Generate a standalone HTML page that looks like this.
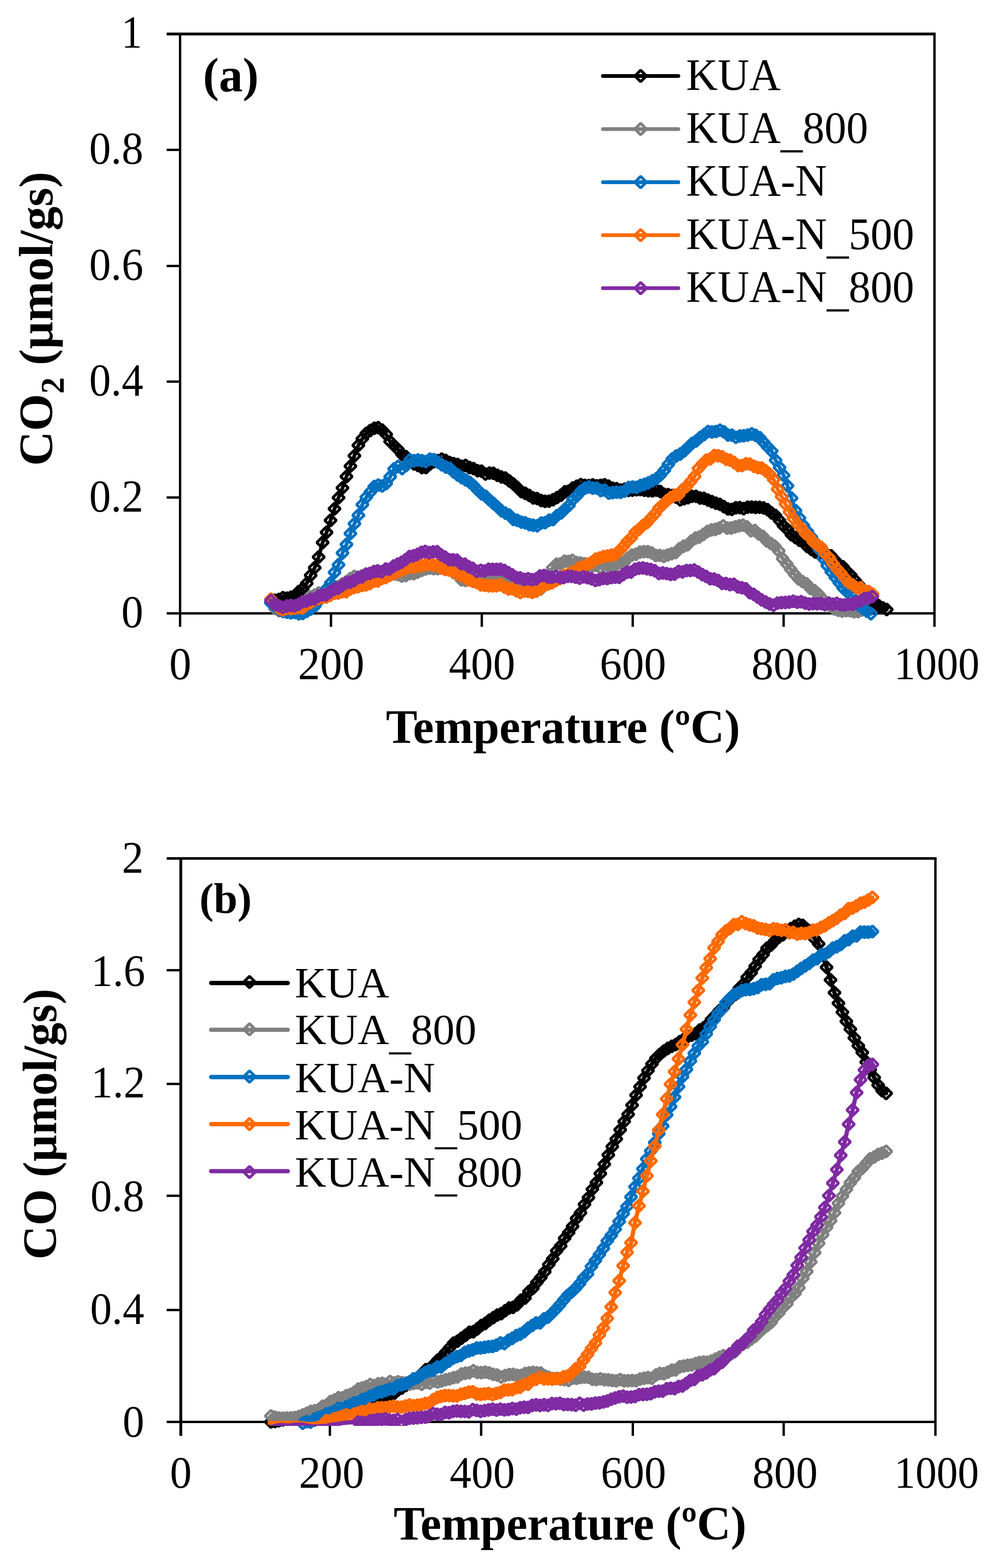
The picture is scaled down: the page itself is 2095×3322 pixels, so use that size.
<!DOCTYPE html>
<html lang="en"><head><meta charset="utf-8"><title>TPD profiles: CO2 and CO evolution</title>
<style>
html,body{margin:0;padding:0;background:#fff}
svg{display:block}
text{font-family:"Liberation Serif","Times New Roman",serif;fill:#000}
</style></head>
<body>
<svg width="2095" height="3322" viewBox="0 0 2095 3322">
<rect width="2095" height="3322" fill="#fff"/>
<defs><clipPath id="clipb"><rect x="567.1" y="1700" width="1500" height="1320.9"/></clipPath></defs>
<g id="chart-a">
<g fill="#000">
<rect x="353" y="69" width="1629" height="6"/>
<rect x="1977" y="69" width="5" height="1259"/>
<rect x="379" y="69" width="5" height="1259"/>
<rect x="353" y="1297" width="1629" height="5"/>
<rect x="353" y="1051.5" width="31" height="5"/>
<rect x="353" y="806" width="31" height="5"/>
<rect x="353" y="561" width="31" height="5"/>
<rect x="353" y="315" width="31" height="5"/>
<rect x="698.6" y="1297" width="5" height="31"/>
<rect x="1018.1" y="1297" width="5" height="31"/>
<rect x="1337.8" y="1297" width="5" height="31"/>
<rect x="1657.5" y="1297" width="5" height="31"/>
</g>
<g fill="none" stroke="#000000"><path d="M574.0,1276.6L582.4,1271.9L590.8,1270.1L599.2,1266.2L607.7,1267.4L616.1,1265.4L624.5,1262.1L632.9,1253.4L641.3,1247.1L649.7,1236.0L658.1,1218.9L666.6,1202.9L675.0,1180.1L683.4,1149.4L691.8,1127.9L700.2,1102.4L708.6,1077.9L717.1,1054.4L725.5,1033.7L733.9,1009.6L742.3,987.5L750.7,965.6L759.1,943.5L767.5,929.5L776.0,918.3L784.4,912.0L792.8,907.2L801.2,906.0L809.6,911.4L818.0,920.2L826.4,935.5L834.9,944.0L843.3,952.4L851.7,962.9L860.1,967.5L868.5,975.9L876.9,982.9L885.3,986.2L893.8,990.7L902.2,990.7L910.6,983.3L919.0,978.3L927.4,976.1L935.8,972.8L944.3,975.6L952.7,980.0L961.1,982.2L969.5,984.1L977.9,987.7L986.3,986.1L994.7,990.6L1003.2,992.7L1011.6,997.2L1020.0,998.2L1028.4,1004.3L1036.8,1002.2L1045.2,1002.8L1053.6,1007.0L1062.1,1010.5L1070.5,1012.8L1078.9,1018.9L1087.3,1025.2L1095.7,1032.9L1104.1,1041.5L1112.5,1045.1L1121.0,1049.5L1129.4,1054.9L1137.8,1056.2L1146.2,1060.4L1154.6,1062.1L1163.0,1061.7L1171.5,1058.7L1179.9,1054.3L1188.3,1049.3L1196.7,1041.7L1205.1,1040.2L1213.5,1033.7L1221.9,1030.0L1230.4,1026.7L1238.8,1028.2L1247.2,1028.7L1255.6,1027.3L1264.0,1029.2L1272.4,1028.3L1280.8,1027.1L1289.3,1030.1L1297.7,1034.4L1306.1,1035.3L1314.5,1038.1L1322.9,1036.6L1331.3,1038.9L1339.8,1038.5L1348.2,1037.5L1356.6,1037.3L1365.0,1038.7L1373.4,1039.6L1381.8,1039.9L1390.2,1038.4L1398.7,1041.4L1407.1,1047.2L1415.5,1048.0L1423.9,1049.9L1432.3,1053.4L1440.7,1058.9L1449.1,1056.8L1457.6,1054.5L1466.0,1051.5L1474.4,1051.5L1482.8,1055.1L1491.2,1055.7L1499.6,1059.5L1508.0,1062.9L1516.5,1066.1L1524.9,1068.5L1533.3,1073.4L1541.7,1078.2L1550.1,1079.3L1558.5,1075.9L1567.0,1075.4L1575.4,1077.6L1583.8,1074.5L1592.2,1074.3L1600.6,1074.9L1609.0,1074.7L1617.4,1076.0L1625.9,1079.8L1634.3,1086.6L1642.7,1092.0L1651.1,1102.6L1659.5,1113.8L1667.9,1121.7L1676.3,1133.0L1684.8,1138.8L1693.2,1144.7L1701.6,1146.5L1710.0,1157.9L1718.4,1163.9L1726.8,1169.5L1735.2,1172.5L1743.7,1171.2L1752.1,1175.7L1760.5,1177.6L1768.9,1187.0L1777.3,1196.4L1785.7,1200.8L1794.2,1210.7L1802.6,1218.9L1811.0,1229.2L1819.4,1239.0L1827.8,1248.2L1836.2,1262.6L1844.6,1271.5L1853.1,1276.9L1861.5,1283.4L1869.9,1287.7L1878.3,1291.3" stroke-width="8.0" stroke-linejoin="round" stroke-linecap="round"/><path d="M574.0,1264.4l12.2,12.2l-12.2,12.2l-12.2,-12.2zM582.4,1259.7l12.2,12.2l-12.2,12.2l-12.2,-12.2zM590.8,1257.9l12.2,12.2l-12.2,12.2l-12.2,-12.2zM599.2,1254.0l12.2,12.2l-12.2,12.2l-12.2,-12.2zM607.7,1255.2l12.2,12.2l-12.2,12.2l-12.2,-12.2zM616.1,1253.2l12.2,12.2l-12.2,12.2l-12.2,-12.2zM624.5,1249.9l12.2,12.2l-12.2,12.2l-12.2,-12.2zM632.9,1241.2l12.2,12.2l-12.2,12.2l-12.2,-12.2zM641.3,1234.9l12.2,12.2l-12.2,12.2l-12.2,-12.2zM649.7,1223.8l12.2,12.2l-12.2,12.2l-12.2,-12.2zM658.1,1206.7l12.2,12.2l-12.2,12.2l-12.2,-12.2zM666.6,1190.7l12.2,12.2l-12.2,12.2l-12.2,-12.2zM675.0,1167.9l12.2,12.2l-12.2,12.2l-12.2,-12.2zM683.4,1137.2l12.2,12.2l-12.2,12.2l-12.2,-12.2zM691.8,1115.7l12.2,12.2l-12.2,12.2l-12.2,-12.2zM700.2,1090.2l12.2,12.2l-12.2,12.2l-12.2,-12.2zM708.6,1065.7l12.2,12.2l-12.2,12.2l-12.2,-12.2zM717.1,1042.2l12.2,12.2l-12.2,12.2l-12.2,-12.2zM725.5,1021.5l12.2,12.2l-12.2,12.2l-12.2,-12.2zM733.9,997.4l12.2,12.2l-12.2,12.2l-12.2,-12.2zM742.3,975.3l12.2,12.2l-12.2,12.2l-12.2,-12.2zM750.7,953.4l12.2,12.2l-12.2,12.2l-12.2,-12.2zM759.1,931.3l12.2,12.2l-12.2,12.2l-12.2,-12.2zM767.5,917.3l12.2,12.2l-12.2,12.2l-12.2,-12.2zM776.0,906.1l12.2,12.2l-12.2,12.2l-12.2,-12.2zM784.4,899.8l12.2,12.2l-12.2,12.2l-12.2,-12.2zM792.8,895.0l12.2,12.2l-12.2,12.2l-12.2,-12.2zM801.2,893.8l12.2,12.2l-12.2,12.2l-12.2,-12.2zM809.6,899.2l12.2,12.2l-12.2,12.2l-12.2,-12.2zM818.0,908.0l12.2,12.2l-12.2,12.2l-12.2,-12.2zM826.4,923.3l12.2,12.2l-12.2,12.2l-12.2,-12.2zM834.9,931.8l12.2,12.2l-12.2,12.2l-12.2,-12.2zM843.3,940.2l12.2,12.2l-12.2,12.2l-12.2,-12.2zM851.7,950.7l12.2,12.2l-12.2,12.2l-12.2,-12.2zM860.1,955.3l12.2,12.2l-12.2,12.2l-12.2,-12.2zM868.5,963.7l12.2,12.2l-12.2,12.2l-12.2,-12.2zM876.9,970.7l12.2,12.2l-12.2,12.2l-12.2,-12.2zM885.3,974.0l12.2,12.2l-12.2,12.2l-12.2,-12.2zM893.8,978.5l12.2,12.2l-12.2,12.2l-12.2,-12.2zM902.2,978.5l12.2,12.2l-12.2,12.2l-12.2,-12.2zM910.6,971.1l12.2,12.2l-12.2,12.2l-12.2,-12.2zM919.0,966.1l12.2,12.2l-12.2,12.2l-12.2,-12.2zM927.4,963.9l12.2,12.2l-12.2,12.2l-12.2,-12.2zM935.8,960.6l12.2,12.2l-12.2,12.2l-12.2,-12.2zM944.3,963.4l12.2,12.2l-12.2,12.2l-12.2,-12.2zM952.7,967.8l12.2,12.2l-12.2,12.2l-12.2,-12.2zM961.1,970.0l12.2,12.2l-12.2,12.2l-12.2,-12.2zM969.5,971.9l12.2,12.2l-12.2,12.2l-12.2,-12.2zM977.9,975.5l12.2,12.2l-12.2,12.2l-12.2,-12.2zM986.3,973.9l12.2,12.2l-12.2,12.2l-12.2,-12.2zM994.7,978.4l12.2,12.2l-12.2,12.2l-12.2,-12.2zM1003.2,980.5l12.2,12.2l-12.2,12.2l-12.2,-12.2zM1011.6,985.0l12.2,12.2l-12.2,12.2l-12.2,-12.2zM1020.0,986.0l12.2,12.2l-12.2,12.2l-12.2,-12.2zM1028.4,992.1l12.2,12.2l-12.2,12.2l-12.2,-12.2zM1036.8,990.0l12.2,12.2l-12.2,12.2l-12.2,-12.2zM1045.2,990.6l12.2,12.2l-12.2,12.2l-12.2,-12.2zM1053.6,994.8l12.2,12.2l-12.2,12.2l-12.2,-12.2zM1062.1,998.3l12.2,12.2l-12.2,12.2l-12.2,-12.2zM1070.5,1000.6l12.2,12.2l-12.2,12.2l-12.2,-12.2zM1078.9,1006.7l12.2,12.2l-12.2,12.2l-12.2,-12.2zM1087.3,1013.0l12.2,12.2l-12.2,12.2l-12.2,-12.2zM1095.7,1020.7l12.2,12.2l-12.2,12.2l-12.2,-12.2zM1104.1,1029.3l12.2,12.2l-12.2,12.2l-12.2,-12.2zM1112.5,1032.9l12.2,12.2l-12.2,12.2l-12.2,-12.2zM1121.0,1037.3l12.2,12.2l-12.2,12.2l-12.2,-12.2zM1129.4,1042.7l12.2,12.2l-12.2,12.2l-12.2,-12.2zM1137.8,1044.0l12.2,12.2l-12.2,12.2l-12.2,-12.2zM1146.2,1048.2l12.2,12.2l-12.2,12.2l-12.2,-12.2zM1154.6,1049.9l12.2,12.2l-12.2,12.2l-12.2,-12.2zM1163.0,1049.5l12.2,12.2l-12.2,12.2l-12.2,-12.2zM1171.5,1046.5l12.2,12.2l-12.2,12.2l-12.2,-12.2zM1179.9,1042.1l12.2,12.2l-12.2,12.2l-12.2,-12.2zM1188.3,1037.1l12.2,12.2l-12.2,12.2l-12.2,-12.2zM1196.7,1029.5l12.2,12.2l-12.2,12.2l-12.2,-12.2zM1205.1,1028.0l12.2,12.2l-12.2,12.2l-12.2,-12.2zM1213.5,1021.5l12.2,12.2l-12.2,12.2l-12.2,-12.2zM1221.9,1017.8l12.2,12.2l-12.2,12.2l-12.2,-12.2zM1230.4,1014.5l12.2,12.2l-12.2,12.2l-12.2,-12.2zM1238.8,1016.0l12.2,12.2l-12.2,12.2l-12.2,-12.2zM1247.2,1016.5l12.2,12.2l-12.2,12.2l-12.2,-12.2zM1255.6,1015.1l12.2,12.2l-12.2,12.2l-12.2,-12.2zM1264.0,1017.0l12.2,12.2l-12.2,12.2l-12.2,-12.2zM1272.4,1016.1l12.2,12.2l-12.2,12.2l-12.2,-12.2zM1280.8,1014.9l12.2,12.2l-12.2,12.2l-12.2,-12.2zM1289.3,1017.9l12.2,12.2l-12.2,12.2l-12.2,-12.2zM1297.7,1022.2l12.2,12.2l-12.2,12.2l-12.2,-12.2zM1306.1,1023.1l12.2,12.2l-12.2,12.2l-12.2,-12.2zM1314.5,1025.9l12.2,12.2l-12.2,12.2l-12.2,-12.2zM1322.9,1024.4l12.2,12.2l-12.2,12.2l-12.2,-12.2zM1331.3,1026.7l12.2,12.2l-12.2,12.2l-12.2,-12.2zM1339.8,1026.3l12.2,12.2l-12.2,12.2l-12.2,-12.2zM1348.2,1025.3l12.2,12.2l-12.2,12.2l-12.2,-12.2zM1356.6,1025.1l12.2,12.2l-12.2,12.2l-12.2,-12.2zM1365.0,1026.5l12.2,12.2l-12.2,12.2l-12.2,-12.2zM1373.4,1027.4l12.2,12.2l-12.2,12.2l-12.2,-12.2zM1381.8,1027.7l12.2,12.2l-12.2,12.2l-12.2,-12.2zM1390.2,1026.2l12.2,12.2l-12.2,12.2l-12.2,-12.2zM1398.7,1029.2l12.2,12.2l-12.2,12.2l-12.2,-12.2zM1407.1,1035.0l12.2,12.2l-12.2,12.2l-12.2,-12.2zM1415.5,1035.8l12.2,12.2l-12.2,12.2l-12.2,-12.2zM1423.9,1037.7l12.2,12.2l-12.2,12.2l-12.2,-12.2zM1432.3,1041.2l12.2,12.2l-12.2,12.2l-12.2,-12.2zM1440.7,1046.7l12.2,12.2l-12.2,12.2l-12.2,-12.2zM1449.1,1044.6l12.2,12.2l-12.2,12.2l-12.2,-12.2zM1457.6,1042.3l12.2,12.2l-12.2,12.2l-12.2,-12.2zM1466.0,1039.3l12.2,12.2l-12.2,12.2l-12.2,-12.2zM1474.4,1039.3l12.2,12.2l-12.2,12.2l-12.2,-12.2zM1482.8,1042.9l12.2,12.2l-12.2,12.2l-12.2,-12.2zM1491.2,1043.5l12.2,12.2l-12.2,12.2l-12.2,-12.2zM1499.6,1047.3l12.2,12.2l-12.2,12.2l-12.2,-12.2zM1508.0,1050.7l12.2,12.2l-12.2,12.2l-12.2,-12.2zM1516.5,1053.9l12.2,12.2l-12.2,12.2l-12.2,-12.2zM1524.9,1056.3l12.2,12.2l-12.2,12.2l-12.2,-12.2zM1533.3,1061.2l12.2,12.2l-12.2,12.2l-12.2,-12.2zM1541.7,1066.0l12.2,12.2l-12.2,12.2l-12.2,-12.2zM1550.1,1067.1l12.2,12.2l-12.2,12.2l-12.2,-12.2zM1558.5,1063.7l12.2,12.2l-12.2,12.2l-12.2,-12.2zM1567.0,1063.2l12.2,12.2l-12.2,12.2l-12.2,-12.2zM1575.4,1065.4l12.2,12.2l-12.2,12.2l-12.2,-12.2zM1583.8,1062.3l12.2,12.2l-12.2,12.2l-12.2,-12.2zM1592.2,1062.1l12.2,12.2l-12.2,12.2l-12.2,-12.2zM1600.6,1062.7l12.2,12.2l-12.2,12.2l-12.2,-12.2zM1609.0,1062.5l12.2,12.2l-12.2,12.2l-12.2,-12.2zM1617.4,1063.8l12.2,12.2l-12.2,12.2l-12.2,-12.2zM1625.9,1067.6l12.2,12.2l-12.2,12.2l-12.2,-12.2zM1634.3,1074.4l12.2,12.2l-12.2,12.2l-12.2,-12.2zM1642.7,1079.8l12.2,12.2l-12.2,12.2l-12.2,-12.2zM1651.1,1090.4l12.2,12.2l-12.2,12.2l-12.2,-12.2zM1659.5,1101.6l12.2,12.2l-12.2,12.2l-12.2,-12.2zM1667.9,1109.5l12.2,12.2l-12.2,12.2l-12.2,-12.2zM1676.3,1120.8l12.2,12.2l-12.2,12.2l-12.2,-12.2zM1684.8,1126.6l12.2,12.2l-12.2,12.2l-12.2,-12.2zM1693.2,1132.5l12.2,12.2l-12.2,12.2l-12.2,-12.2zM1701.6,1134.3l12.2,12.2l-12.2,12.2l-12.2,-12.2zM1710.0,1145.7l12.2,12.2l-12.2,12.2l-12.2,-12.2zM1718.4,1151.7l12.2,12.2l-12.2,12.2l-12.2,-12.2zM1726.8,1157.3l12.2,12.2l-12.2,12.2l-12.2,-12.2zM1735.2,1160.3l12.2,12.2l-12.2,12.2l-12.2,-12.2zM1743.7,1159.0l12.2,12.2l-12.2,12.2l-12.2,-12.2zM1752.1,1163.5l12.2,12.2l-12.2,12.2l-12.2,-12.2zM1760.5,1165.4l12.2,12.2l-12.2,12.2l-12.2,-12.2zM1768.9,1174.8l12.2,12.2l-12.2,12.2l-12.2,-12.2zM1777.3,1184.2l12.2,12.2l-12.2,12.2l-12.2,-12.2zM1785.7,1188.6l12.2,12.2l-12.2,12.2l-12.2,-12.2zM1794.2,1198.5l12.2,12.2l-12.2,12.2l-12.2,-12.2zM1802.6,1206.7l12.2,12.2l-12.2,12.2l-12.2,-12.2zM1811.0,1217.0l12.2,12.2l-12.2,12.2l-12.2,-12.2zM1819.4,1226.8l12.2,12.2l-12.2,12.2l-12.2,-12.2zM1827.8,1236.0l12.2,12.2l-12.2,12.2l-12.2,-12.2zM1836.2,1250.4l12.2,12.2l-12.2,12.2l-12.2,-12.2zM1844.6,1259.3l12.2,12.2l-12.2,12.2l-12.2,-12.2zM1853.1,1264.7l12.2,12.2l-12.2,12.2l-12.2,-12.2zM1861.5,1271.2l12.2,12.2l-12.2,12.2l-12.2,-12.2zM1869.9,1275.5l12.2,12.2l-12.2,12.2l-12.2,-12.2zM1878.3,1279.1l12.2,12.2l-12.2,12.2l-12.2,-12.2z" stroke-width="6.0" stroke-linejoin="bevel"/></g>
<g fill="none" stroke="#808080"><path d="M574.0,1274.9L582.4,1289.3L590.8,1293.6L599.2,1292.8L607.6,1293.1L616.0,1291.4L624.4,1287.2L632.8,1286.4L641.2,1280.8L649.6,1275.1L658.0,1264.5L666.4,1260.9L674.8,1256.6L683.2,1257.9L691.6,1253.7L700.0,1246.1L708.4,1246.6L716.8,1242.3L725.2,1236.7L733.7,1232.4L742.1,1225.9L750.5,1221.2L758.9,1223.1L767.3,1219.5L775.7,1218.6L784.1,1215.4L792.5,1210.6L800.9,1211.6L809.3,1212.3L817.7,1215.4L826.1,1214.5L834.5,1216.3L842.9,1217.5L851.3,1220.5L859.7,1219.2L868.1,1215.2L876.5,1215.5L884.9,1212.1L893.3,1208.5L901.7,1205.4L910.1,1203.6L918.5,1204.8L926.9,1204.6L935.3,1200.6L943.7,1203.9L952.1,1206.1L960.5,1213.0L968.9,1217.9L977.3,1228.4L985.7,1229.8L994.1,1224.8L1002.5,1225.6L1010.9,1228.3L1019.3,1225.2L1027.7,1227.0L1036.1,1223.5L1044.6,1221.0L1053.0,1225.8L1061.4,1228.7L1069.8,1228.7L1078.2,1230.2L1086.6,1234.1L1095.0,1241.4L1103.4,1244.6L1111.8,1245.6L1120.2,1248.8L1128.6,1250.4L1137.0,1252.3L1145.4,1248.3L1153.8,1232.1L1162.2,1217.9L1170.6,1203.2L1179.0,1195.2L1187.4,1194.5L1195.8,1189.1L1204.2,1189.6L1212.6,1187.4L1221.0,1191.7L1229.4,1192.9L1237.8,1194.3L1246.2,1198.6L1254.6,1199.0L1263.0,1198.3L1271.4,1202.3L1279.8,1198.2L1288.2,1197.4L1296.6,1198.8L1305.0,1196.8L1313.4,1191.9L1321.8,1192.1L1330.2,1182.2L1338.6,1176.0L1347.0,1174.4L1355.4,1169.9L1363.9,1168.7L1372.3,1168.7L1380.7,1171.5L1389.1,1176.9L1397.5,1176.8L1405.9,1178.6L1414.3,1176.0L1422.7,1173.2L1431.1,1170.8L1439.5,1162.5L1447.9,1157.4L1456.3,1154.3L1464.7,1146.0L1473.1,1140.1L1481.5,1137.8L1489.9,1132.3L1498.3,1126.0L1506.7,1122.8L1515.1,1121.6L1523.5,1118.8L1531.9,1114.2L1540.3,1118.7L1548.7,1118.6L1557.1,1116.4L1565.5,1114.0L1573.9,1112.7L1582.3,1116.3L1590.7,1124.5L1599.1,1124.0L1607.5,1131.5L1615.9,1136.2L1624.3,1146.1L1632.7,1151.4L1641.1,1157.0L1649.5,1167.2L1657.9,1183.6L1666.3,1194.3L1674.8,1206.1L1683.2,1216.9L1691.6,1226.5L1700.0,1232.3L1708.4,1236.7L1716.8,1246.7L1725.2,1251.2L1733.6,1258.6L1742.0,1268.4L1750.4,1277.8L1758.8,1283.9L1767.2,1290.3L1775.6,1293.0L1784.0,1294.8L1792.4,1293.6L1800.8,1293.9L1809.2,1296.0L1817.6,1295.7L1826.0,1292.5" stroke-width="8.0" stroke-linejoin="round" stroke-linecap="round"/><path d="M574.0,1262.7l12.2,12.2l-12.2,12.2l-12.2,-12.2zM582.4,1277.1l12.2,12.2l-12.2,12.2l-12.2,-12.2zM590.8,1281.4l12.2,12.2l-12.2,12.2l-12.2,-12.2zM599.2,1280.6l12.2,12.2l-12.2,12.2l-12.2,-12.2zM607.6,1280.9l12.2,12.2l-12.2,12.2l-12.2,-12.2zM616.0,1279.2l12.2,12.2l-12.2,12.2l-12.2,-12.2zM624.4,1275.0l12.2,12.2l-12.2,12.2l-12.2,-12.2zM632.8,1274.2l12.2,12.2l-12.2,12.2l-12.2,-12.2zM641.2,1268.6l12.2,12.2l-12.2,12.2l-12.2,-12.2zM649.6,1262.9l12.2,12.2l-12.2,12.2l-12.2,-12.2zM658.0,1252.3l12.2,12.2l-12.2,12.2l-12.2,-12.2zM666.4,1248.7l12.2,12.2l-12.2,12.2l-12.2,-12.2zM674.8,1244.4l12.2,12.2l-12.2,12.2l-12.2,-12.2zM683.2,1245.7l12.2,12.2l-12.2,12.2l-12.2,-12.2zM691.6,1241.5l12.2,12.2l-12.2,12.2l-12.2,-12.2zM700.0,1233.9l12.2,12.2l-12.2,12.2l-12.2,-12.2zM708.4,1234.4l12.2,12.2l-12.2,12.2l-12.2,-12.2zM716.8,1230.1l12.2,12.2l-12.2,12.2l-12.2,-12.2zM725.2,1224.5l12.2,12.2l-12.2,12.2l-12.2,-12.2zM733.7,1220.2l12.2,12.2l-12.2,12.2l-12.2,-12.2zM742.1,1213.7l12.2,12.2l-12.2,12.2l-12.2,-12.2zM750.5,1209.0l12.2,12.2l-12.2,12.2l-12.2,-12.2zM758.9,1210.9l12.2,12.2l-12.2,12.2l-12.2,-12.2zM767.3,1207.3l12.2,12.2l-12.2,12.2l-12.2,-12.2zM775.7,1206.4l12.2,12.2l-12.2,12.2l-12.2,-12.2zM784.1,1203.2l12.2,12.2l-12.2,12.2l-12.2,-12.2zM792.5,1198.4l12.2,12.2l-12.2,12.2l-12.2,-12.2zM800.9,1199.4l12.2,12.2l-12.2,12.2l-12.2,-12.2zM809.3,1200.1l12.2,12.2l-12.2,12.2l-12.2,-12.2zM817.7,1203.2l12.2,12.2l-12.2,12.2l-12.2,-12.2zM826.1,1202.3l12.2,12.2l-12.2,12.2l-12.2,-12.2zM834.5,1204.1l12.2,12.2l-12.2,12.2l-12.2,-12.2zM842.9,1205.3l12.2,12.2l-12.2,12.2l-12.2,-12.2zM851.3,1208.3l12.2,12.2l-12.2,12.2l-12.2,-12.2zM859.7,1207.0l12.2,12.2l-12.2,12.2l-12.2,-12.2zM868.1,1203.0l12.2,12.2l-12.2,12.2l-12.2,-12.2zM876.5,1203.3l12.2,12.2l-12.2,12.2l-12.2,-12.2zM884.9,1199.9l12.2,12.2l-12.2,12.2l-12.2,-12.2zM893.3,1196.3l12.2,12.2l-12.2,12.2l-12.2,-12.2zM901.7,1193.2l12.2,12.2l-12.2,12.2l-12.2,-12.2zM910.1,1191.4l12.2,12.2l-12.2,12.2l-12.2,-12.2zM918.5,1192.6l12.2,12.2l-12.2,12.2l-12.2,-12.2zM926.9,1192.4l12.2,12.2l-12.2,12.2l-12.2,-12.2zM935.3,1188.4l12.2,12.2l-12.2,12.2l-12.2,-12.2zM943.7,1191.7l12.2,12.2l-12.2,12.2l-12.2,-12.2zM952.1,1193.9l12.2,12.2l-12.2,12.2l-12.2,-12.2zM960.5,1200.8l12.2,12.2l-12.2,12.2l-12.2,-12.2zM968.9,1205.7l12.2,12.2l-12.2,12.2l-12.2,-12.2zM977.3,1216.2l12.2,12.2l-12.2,12.2l-12.2,-12.2zM985.7,1217.6l12.2,12.2l-12.2,12.2l-12.2,-12.2zM994.1,1212.6l12.2,12.2l-12.2,12.2l-12.2,-12.2zM1002.5,1213.4l12.2,12.2l-12.2,12.2l-12.2,-12.2zM1010.9,1216.1l12.2,12.2l-12.2,12.2l-12.2,-12.2zM1019.3,1213.0l12.2,12.2l-12.2,12.2l-12.2,-12.2zM1027.7,1214.8l12.2,12.2l-12.2,12.2l-12.2,-12.2zM1036.1,1211.3l12.2,12.2l-12.2,12.2l-12.2,-12.2zM1044.6,1208.8l12.2,12.2l-12.2,12.2l-12.2,-12.2zM1053.0,1213.6l12.2,12.2l-12.2,12.2l-12.2,-12.2zM1061.4,1216.5l12.2,12.2l-12.2,12.2l-12.2,-12.2zM1069.8,1216.5l12.2,12.2l-12.2,12.2l-12.2,-12.2zM1078.2,1218.0l12.2,12.2l-12.2,12.2l-12.2,-12.2zM1086.6,1221.9l12.2,12.2l-12.2,12.2l-12.2,-12.2zM1095.0,1229.2l12.2,12.2l-12.2,12.2l-12.2,-12.2zM1103.4,1232.4l12.2,12.2l-12.2,12.2l-12.2,-12.2zM1111.8,1233.4l12.2,12.2l-12.2,12.2l-12.2,-12.2zM1120.2,1236.6l12.2,12.2l-12.2,12.2l-12.2,-12.2zM1128.6,1238.2l12.2,12.2l-12.2,12.2l-12.2,-12.2zM1137.0,1240.1l12.2,12.2l-12.2,12.2l-12.2,-12.2zM1145.4,1236.1l12.2,12.2l-12.2,12.2l-12.2,-12.2zM1153.8,1219.9l12.2,12.2l-12.2,12.2l-12.2,-12.2zM1162.2,1205.7l12.2,12.2l-12.2,12.2l-12.2,-12.2zM1170.6,1191.0l12.2,12.2l-12.2,12.2l-12.2,-12.2zM1179.0,1183.0l12.2,12.2l-12.2,12.2l-12.2,-12.2zM1187.4,1182.3l12.2,12.2l-12.2,12.2l-12.2,-12.2zM1195.8,1176.9l12.2,12.2l-12.2,12.2l-12.2,-12.2zM1204.2,1177.4l12.2,12.2l-12.2,12.2l-12.2,-12.2zM1212.6,1175.2l12.2,12.2l-12.2,12.2l-12.2,-12.2zM1221.0,1179.5l12.2,12.2l-12.2,12.2l-12.2,-12.2zM1229.4,1180.7l12.2,12.2l-12.2,12.2l-12.2,-12.2zM1237.8,1182.1l12.2,12.2l-12.2,12.2l-12.2,-12.2zM1246.2,1186.4l12.2,12.2l-12.2,12.2l-12.2,-12.2zM1254.6,1186.8l12.2,12.2l-12.2,12.2l-12.2,-12.2zM1263.0,1186.1l12.2,12.2l-12.2,12.2l-12.2,-12.2zM1271.4,1190.1l12.2,12.2l-12.2,12.2l-12.2,-12.2zM1279.8,1186.0l12.2,12.2l-12.2,12.2l-12.2,-12.2zM1288.2,1185.2l12.2,12.2l-12.2,12.2l-12.2,-12.2zM1296.6,1186.6l12.2,12.2l-12.2,12.2l-12.2,-12.2zM1305.0,1184.6l12.2,12.2l-12.2,12.2l-12.2,-12.2zM1313.4,1179.7l12.2,12.2l-12.2,12.2l-12.2,-12.2zM1321.8,1179.9l12.2,12.2l-12.2,12.2l-12.2,-12.2zM1330.2,1170.0l12.2,12.2l-12.2,12.2l-12.2,-12.2zM1338.6,1163.8l12.2,12.2l-12.2,12.2l-12.2,-12.2zM1347.0,1162.2l12.2,12.2l-12.2,12.2l-12.2,-12.2zM1355.4,1157.7l12.2,12.2l-12.2,12.2l-12.2,-12.2zM1363.9,1156.5l12.2,12.2l-12.2,12.2l-12.2,-12.2zM1372.3,1156.5l12.2,12.2l-12.2,12.2l-12.2,-12.2zM1380.7,1159.3l12.2,12.2l-12.2,12.2l-12.2,-12.2zM1389.1,1164.7l12.2,12.2l-12.2,12.2l-12.2,-12.2zM1397.5,1164.6l12.2,12.2l-12.2,12.2l-12.2,-12.2zM1405.9,1166.4l12.2,12.2l-12.2,12.2l-12.2,-12.2zM1414.3,1163.8l12.2,12.2l-12.2,12.2l-12.2,-12.2zM1422.7,1161.0l12.2,12.2l-12.2,12.2l-12.2,-12.2zM1431.1,1158.6l12.2,12.2l-12.2,12.2l-12.2,-12.2zM1439.5,1150.3l12.2,12.2l-12.2,12.2l-12.2,-12.2zM1447.9,1145.2l12.2,12.2l-12.2,12.2l-12.2,-12.2zM1456.3,1142.1l12.2,12.2l-12.2,12.2l-12.2,-12.2zM1464.7,1133.8l12.2,12.2l-12.2,12.2l-12.2,-12.2zM1473.1,1127.9l12.2,12.2l-12.2,12.2l-12.2,-12.2zM1481.5,1125.6l12.2,12.2l-12.2,12.2l-12.2,-12.2zM1489.9,1120.1l12.2,12.2l-12.2,12.2l-12.2,-12.2zM1498.3,1113.8l12.2,12.2l-12.2,12.2l-12.2,-12.2zM1506.7,1110.6l12.2,12.2l-12.2,12.2l-12.2,-12.2zM1515.1,1109.4l12.2,12.2l-12.2,12.2l-12.2,-12.2zM1523.5,1106.6l12.2,12.2l-12.2,12.2l-12.2,-12.2zM1531.9,1102.0l12.2,12.2l-12.2,12.2l-12.2,-12.2zM1540.3,1106.5l12.2,12.2l-12.2,12.2l-12.2,-12.2zM1548.7,1106.4l12.2,12.2l-12.2,12.2l-12.2,-12.2zM1557.1,1104.2l12.2,12.2l-12.2,12.2l-12.2,-12.2zM1565.5,1101.8l12.2,12.2l-12.2,12.2l-12.2,-12.2zM1573.9,1100.5l12.2,12.2l-12.2,12.2l-12.2,-12.2zM1582.3,1104.1l12.2,12.2l-12.2,12.2l-12.2,-12.2zM1590.7,1112.3l12.2,12.2l-12.2,12.2l-12.2,-12.2zM1599.1,1111.8l12.2,12.2l-12.2,12.2l-12.2,-12.2zM1607.5,1119.3l12.2,12.2l-12.2,12.2l-12.2,-12.2zM1615.9,1124.0l12.2,12.2l-12.2,12.2l-12.2,-12.2zM1624.3,1133.9l12.2,12.2l-12.2,12.2l-12.2,-12.2zM1632.7,1139.2l12.2,12.2l-12.2,12.2l-12.2,-12.2zM1641.1,1144.8l12.2,12.2l-12.2,12.2l-12.2,-12.2zM1649.5,1155.0l12.2,12.2l-12.2,12.2l-12.2,-12.2zM1657.9,1171.4l12.2,12.2l-12.2,12.2l-12.2,-12.2zM1666.3,1182.1l12.2,12.2l-12.2,12.2l-12.2,-12.2zM1674.8,1193.9l12.2,12.2l-12.2,12.2l-12.2,-12.2zM1683.2,1204.7l12.2,12.2l-12.2,12.2l-12.2,-12.2zM1691.6,1214.3l12.2,12.2l-12.2,12.2l-12.2,-12.2zM1700.0,1220.1l12.2,12.2l-12.2,12.2l-12.2,-12.2zM1708.4,1224.5l12.2,12.2l-12.2,12.2l-12.2,-12.2zM1716.8,1234.5l12.2,12.2l-12.2,12.2l-12.2,-12.2zM1725.2,1239.0l12.2,12.2l-12.2,12.2l-12.2,-12.2zM1733.6,1246.4l12.2,12.2l-12.2,12.2l-12.2,-12.2zM1742.0,1256.2l12.2,12.2l-12.2,12.2l-12.2,-12.2zM1750.4,1265.6l12.2,12.2l-12.2,12.2l-12.2,-12.2zM1758.8,1271.7l12.2,12.2l-12.2,12.2l-12.2,-12.2zM1767.2,1278.1l12.2,12.2l-12.2,12.2l-12.2,-12.2zM1775.6,1280.8l12.2,12.2l-12.2,12.2l-12.2,-12.2zM1784.0,1282.6l12.2,12.2l-12.2,12.2l-12.2,-12.2zM1792.4,1281.4l12.2,12.2l-12.2,12.2l-12.2,-12.2zM1800.8,1281.7l12.2,12.2l-12.2,12.2l-12.2,-12.2zM1809.2,1283.8l12.2,12.2l-12.2,12.2l-12.2,-12.2zM1817.6,1283.5l12.2,12.2l-12.2,12.2l-12.2,-12.2zM1826.0,1280.3l12.2,12.2l-12.2,12.2l-12.2,-12.2z" stroke-width="6.0" stroke-linejoin="bevel"/></g>
<g fill="none" stroke="#0070C0"><path d="M574.0,1277.4L582.4,1285.2L590.8,1291.8L599.3,1295.5L607.7,1296.9L616.1,1298.4L624.5,1297.4L632.9,1300.5L641.3,1299.7L649.8,1295.1L658.2,1290.5L666.6,1284.5L675.0,1273.3L683.4,1262.4L691.8,1247.6L700.3,1235.0L708.7,1212.7L717.1,1196.6L725.5,1171.7L733.9,1153.4L742.3,1130.3L750.8,1109.5L759.2,1091.6L767.6,1069.2L776.0,1053.4L784.4,1042.5L792.8,1030.9L801.3,1027.7L809.7,1029.5L818.1,1024.4L826.5,1010.1L834.9,993.4L843.4,988.1L851.8,992.6L860.2,986.3L868.6,974.2L877.0,976.1L885.4,974.6L893.9,976.0L902.3,977.7L910.7,972.8L919.1,973.7L927.5,979.1L935.9,984.8L944.4,989.6L952.8,992.1L961.2,1000.2L969.6,1006.4L978.0,1011.9L986.4,1016.6L994.9,1021.8L1003.3,1028.9L1011.7,1038.2L1020.1,1046.2L1028.5,1051.3L1036.9,1059.2L1045.4,1066.6L1053.8,1074.0L1062.2,1082.1L1070.6,1087.2L1079.0,1091.2L1087.5,1100.4L1095.9,1102.4L1104.3,1106.3L1112.7,1107.8L1121.1,1111.4L1129.5,1112.9L1138.0,1113.9L1146.4,1108.2L1154.8,1107.3L1163.2,1102.1L1171.6,1100.7L1180.0,1092.3L1188.5,1086.8L1196.9,1078.7L1205.3,1070.8L1213.7,1058.0L1222.1,1050.4L1230.5,1040.6L1239.0,1034.4L1247.4,1031.9L1255.8,1034.3L1264.2,1034.2L1272.6,1039.4L1281.0,1038.4L1289.5,1044.7L1297.9,1043.6L1306.3,1042.8L1314.7,1043.3L1323.1,1040.5L1331.5,1032.7L1340.0,1031.7L1348.4,1032.4L1356.8,1028.5L1365.2,1026.1L1373.6,1022.7L1382.1,1018.5L1390.5,1014.0L1398.9,1006.5L1407.3,996.5L1415.7,983.9L1424.1,972.3L1432.6,966.0L1441.0,961.9L1449.4,955.5L1457.8,947.5L1466.2,939.2L1474.6,934.3L1483.1,926.8L1491.5,920.8L1499.9,914.2L1508.3,915.2L1516.7,914.3L1525.1,911.5L1533.6,914.9L1542.0,921.6L1550.4,922.0L1558.8,926.5L1567.2,923.8L1575.6,923.1L1584.1,921.7L1592.5,919.4L1600.9,922.4L1609.3,927.4L1617.7,937.1L1626.2,946.8L1634.6,955.7L1643.0,975.1L1651.4,990.4L1659.8,1007.0L1668.2,1029.4L1676.7,1055.4L1685.1,1081.6L1693.5,1097.5L1701.9,1113.3L1710.3,1125.7L1718.7,1137.9L1727.2,1149.9L1735.6,1164.4L1744.0,1183.0L1752.4,1198.4L1760.8,1211.5L1769.2,1223.1L1777.7,1234.3L1786.1,1245.9L1794.5,1253.8L1802.9,1260.2L1811.3,1273.2L1819.7,1282.7L1828.2,1289.2L1836.6,1295.3L1845.0,1300.2" stroke-width="8.0" stroke-linejoin="round" stroke-linecap="round"/><path d="M574.0,1265.2l12.2,12.2l-12.2,12.2l-12.2,-12.2zM582.4,1273.0l12.2,12.2l-12.2,12.2l-12.2,-12.2zM590.8,1279.6l12.2,12.2l-12.2,12.2l-12.2,-12.2zM599.3,1283.3l12.2,12.2l-12.2,12.2l-12.2,-12.2zM607.7,1284.7l12.2,12.2l-12.2,12.2l-12.2,-12.2zM616.1,1286.2l12.2,12.2l-12.2,12.2l-12.2,-12.2zM624.5,1285.2l12.2,12.2l-12.2,12.2l-12.2,-12.2zM632.9,1288.3l12.2,12.2l-12.2,12.2l-12.2,-12.2zM641.3,1287.5l12.2,12.2l-12.2,12.2l-12.2,-12.2zM649.8,1282.9l12.2,12.2l-12.2,12.2l-12.2,-12.2zM658.2,1278.3l12.2,12.2l-12.2,12.2l-12.2,-12.2zM666.6,1272.3l12.2,12.2l-12.2,12.2l-12.2,-12.2zM675.0,1261.1l12.2,12.2l-12.2,12.2l-12.2,-12.2zM683.4,1250.2l12.2,12.2l-12.2,12.2l-12.2,-12.2zM691.8,1235.4l12.2,12.2l-12.2,12.2l-12.2,-12.2zM700.3,1222.8l12.2,12.2l-12.2,12.2l-12.2,-12.2zM708.7,1200.5l12.2,12.2l-12.2,12.2l-12.2,-12.2zM717.1,1184.4l12.2,12.2l-12.2,12.2l-12.2,-12.2zM725.5,1159.5l12.2,12.2l-12.2,12.2l-12.2,-12.2zM733.9,1141.2l12.2,12.2l-12.2,12.2l-12.2,-12.2zM742.3,1118.1l12.2,12.2l-12.2,12.2l-12.2,-12.2zM750.8,1097.3l12.2,12.2l-12.2,12.2l-12.2,-12.2zM759.2,1079.4l12.2,12.2l-12.2,12.2l-12.2,-12.2zM767.6,1057.0l12.2,12.2l-12.2,12.2l-12.2,-12.2zM776.0,1041.2l12.2,12.2l-12.2,12.2l-12.2,-12.2zM784.4,1030.3l12.2,12.2l-12.2,12.2l-12.2,-12.2zM792.8,1018.7l12.2,12.2l-12.2,12.2l-12.2,-12.2zM801.3,1015.5l12.2,12.2l-12.2,12.2l-12.2,-12.2zM809.7,1017.3l12.2,12.2l-12.2,12.2l-12.2,-12.2zM818.1,1012.2l12.2,12.2l-12.2,12.2l-12.2,-12.2zM826.5,997.9l12.2,12.2l-12.2,12.2l-12.2,-12.2zM834.9,981.2l12.2,12.2l-12.2,12.2l-12.2,-12.2zM843.4,975.9l12.2,12.2l-12.2,12.2l-12.2,-12.2zM851.8,980.4l12.2,12.2l-12.2,12.2l-12.2,-12.2zM860.2,974.1l12.2,12.2l-12.2,12.2l-12.2,-12.2zM868.6,962.0l12.2,12.2l-12.2,12.2l-12.2,-12.2zM877.0,963.9l12.2,12.2l-12.2,12.2l-12.2,-12.2zM885.4,962.4l12.2,12.2l-12.2,12.2l-12.2,-12.2zM893.9,963.8l12.2,12.2l-12.2,12.2l-12.2,-12.2zM902.3,965.5l12.2,12.2l-12.2,12.2l-12.2,-12.2zM910.7,960.6l12.2,12.2l-12.2,12.2l-12.2,-12.2zM919.1,961.5l12.2,12.2l-12.2,12.2l-12.2,-12.2zM927.5,966.9l12.2,12.2l-12.2,12.2l-12.2,-12.2zM935.9,972.6l12.2,12.2l-12.2,12.2l-12.2,-12.2zM944.4,977.4l12.2,12.2l-12.2,12.2l-12.2,-12.2zM952.8,979.9l12.2,12.2l-12.2,12.2l-12.2,-12.2zM961.2,988.0l12.2,12.2l-12.2,12.2l-12.2,-12.2zM969.6,994.2l12.2,12.2l-12.2,12.2l-12.2,-12.2zM978.0,999.7l12.2,12.2l-12.2,12.2l-12.2,-12.2zM986.4,1004.4l12.2,12.2l-12.2,12.2l-12.2,-12.2zM994.9,1009.6l12.2,12.2l-12.2,12.2l-12.2,-12.2zM1003.3,1016.7l12.2,12.2l-12.2,12.2l-12.2,-12.2zM1011.7,1026.0l12.2,12.2l-12.2,12.2l-12.2,-12.2zM1020.1,1034.0l12.2,12.2l-12.2,12.2l-12.2,-12.2zM1028.5,1039.1l12.2,12.2l-12.2,12.2l-12.2,-12.2zM1036.9,1047.0l12.2,12.2l-12.2,12.2l-12.2,-12.2zM1045.4,1054.4l12.2,12.2l-12.2,12.2l-12.2,-12.2zM1053.8,1061.8l12.2,12.2l-12.2,12.2l-12.2,-12.2zM1062.2,1069.9l12.2,12.2l-12.2,12.2l-12.2,-12.2zM1070.6,1075.0l12.2,12.2l-12.2,12.2l-12.2,-12.2zM1079.0,1079.0l12.2,12.2l-12.2,12.2l-12.2,-12.2zM1087.5,1088.2l12.2,12.2l-12.2,12.2l-12.2,-12.2zM1095.9,1090.2l12.2,12.2l-12.2,12.2l-12.2,-12.2zM1104.3,1094.1l12.2,12.2l-12.2,12.2l-12.2,-12.2zM1112.7,1095.6l12.2,12.2l-12.2,12.2l-12.2,-12.2zM1121.1,1099.2l12.2,12.2l-12.2,12.2l-12.2,-12.2zM1129.5,1100.7l12.2,12.2l-12.2,12.2l-12.2,-12.2zM1138.0,1101.7l12.2,12.2l-12.2,12.2l-12.2,-12.2zM1146.4,1096.0l12.2,12.2l-12.2,12.2l-12.2,-12.2zM1154.8,1095.1l12.2,12.2l-12.2,12.2l-12.2,-12.2zM1163.2,1089.9l12.2,12.2l-12.2,12.2l-12.2,-12.2zM1171.6,1088.5l12.2,12.2l-12.2,12.2l-12.2,-12.2zM1180.0,1080.1l12.2,12.2l-12.2,12.2l-12.2,-12.2zM1188.5,1074.6l12.2,12.2l-12.2,12.2l-12.2,-12.2zM1196.9,1066.5l12.2,12.2l-12.2,12.2l-12.2,-12.2zM1205.3,1058.6l12.2,12.2l-12.2,12.2l-12.2,-12.2zM1213.7,1045.8l12.2,12.2l-12.2,12.2l-12.2,-12.2zM1222.1,1038.2l12.2,12.2l-12.2,12.2l-12.2,-12.2zM1230.5,1028.4l12.2,12.2l-12.2,12.2l-12.2,-12.2zM1239.0,1022.2l12.2,12.2l-12.2,12.2l-12.2,-12.2zM1247.4,1019.7l12.2,12.2l-12.2,12.2l-12.2,-12.2zM1255.8,1022.1l12.2,12.2l-12.2,12.2l-12.2,-12.2zM1264.2,1022.0l12.2,12.2l-12.2,12.2l-12.2,-12.2zM1272.6,1027.2l12.2,12.2l-12.2,12.2l-12.2,-12.2zM1281.0,1026.2l12.2,12.2l-12.2,12.2l-12.2,-12.2zM1289.5,1032.5l12.2,12.2l-12.2,12.2l-12.2,-12.2zM1297.9,1031.4l12.2,12.2l-12.2,12.2l-12.2,-12.2zM1306.3,1030.6l12.2,12.2l-12.2,12.2l-12.2,-12.2zM1314.7,1031.1l12.2,12.2l-12.2,12.2l-12.2,-12.2zM1323.1,1028.3l12.2,12.2l-12.2,12.2l-12.2,-12.2zM1331.5,1020.5l12.2,12.2l-12.2,12.2l-12.2,-12.2zM1340.0,1019.5l12.2,12.2l-12.2,12.2l-12.2,-12.2zM1348.4,1020.2l12.2,12.2l-12.2,12.2l-12.2,-12.2zM1356.8,1016.3l12.2,12.2l-12.2,12.2l-12.2,-12.2zM1365.2,1013.9l12.2,12.2l-12.2,12.2l-12.2,-12.2zM1373.6,1010.5l12.2,12.2l-12.2,12.2l-12.2,-12.2zM1382.1,1006.3l12.2,12.2l-12.2,12.2l-12.2,-12.2zM1390.5,1001.8l12.2,12.2l-12.2,12.2l-12.2,-12.2zM1398.9,994.3l12.2,12.2l-12.2,12.2l-12.2,-12.2zM1407.3,984.3l12.2,12.2l-12.2,12.2l-12.2,-12.2zM1415.7,971.7l12.2,12.2l-12.2,12.2l-12.2,-12.2zM1424.1,960.1l12.2,12.2l-12.2,12.2l-12.2,-12.2zM1432.6,953.8l12.2,12.2l-12.2,12.2l-12.2,-12.2zM1441.0,949.7l12.2,12.2l-12.2,12.2l-12.2,-12.2zM1449.4,943.3l12.2,12.2l-12.2,12.2l-12.2,-12.2zM1457.8,935.3l12.2,12.2l-12.2,12.2l-12.2,-12.2zM1466.2,927.0l12.2,12.2l-12.2,12.2l-12.2,-12.2zM1474.6,922.1l12.2,12.2l-12.2,12.2l-12.2,-12.2zM1483.1,914.6l12.2,12.2l-12.2,12.2l-12.2,-12.2zM1491.5,908.6l12.2,12.2l-12.2,12.2l-12.2,-12.2zM1499.9,902.0l12.2,12.2l-12.2,12.2l-12.2,-12.2zM1508.3,903.0l12.2,12.2l-12.2,12.2l-12.2,-12.2zM1516.7,902.1l12.2,12.2l-12.2,12.2l-12.2,-12.2zM1525.1,899.3l12.2,12.2l-12.2,12.2l-12.2,-12.2zM1533.6,902.7l12.2,12.2l-12.2,12.2l-12.2,-12.2zM1542.0,909.4l12.2,12.2l-12.2,12.2l-12.2,-12.2zM1550.4,909.8l12.2,12.2l-12.2,12.2l-12.2,-12.2zM1558.8,914.3l12.2,12.2l-12.2,12.2l-12.2,-12.2zM1567.2,911.6l12.2,12.2l-12.2,12.2l-12.2,-12.2zM1575.6,910.9l12.2,12.2l-12.2,12.2l-12.2,-12.2zM1584.1,909.5l12.2,12.2l-12.2,12.2l-12.2,-12.2zM1592.5,907.2l12.2,12.2l-12.2,12.2l-12.2,-12.2zM1600.9,910.2l12.2,12.2l-12.2,12.2l-12.2,-12.2zM1609.3,915.2l12.2,12.2l-12.2,12.2l-12.2,-12.2zM1617.7,924.9l12.2,12.2l-12.2,12.2l-12.2,-12.2zM1626.2,934.6l12.2,12.2l-12.2,12.2l-12.2,-12.2zM1634.6,943.5l12.2,12.2l-12.2,12.2l-12.2,-12.2zM1643.0,962.9l12.2,12.2l-12.2,12.2l-12.2,-12.2zM1651.4,978.2l12.2,12.2l-12.2,12.2l-12.2,-12.2zM1659.8,994.8l12.2,12.2l-12.2,12.2l-12.2,-12.2zM1668.2,1017.2l12.2,12.2l-12.2,12.2l-12.2,-12.2zM1676.7,1043.2l12.2,12.2l-12.2,12.2l-12.2,-12.2zM1685.1,1069.4l12.2,12.2l-12.2,12.2l-12.2,-12.2zM1693.5,1085.3l12.2,12.2l-12.2,12.2l-12.2,-12.2zM1701.9,1101.1l12.2,12.2l-12.2,12.2l-12.2,-12.2zM1710.3,1113.5l12.2,12.2l-12.2,12.2l-12.2,-12.2zM1718.7,1125.7l12.2,12.2l-12.2,12.2l-12.2,-12.2zM1727.2,1137.7l12.2,12.2l-12.2,12.2l-12.2,-12.2zM1735.6,1152.2l12.2,12.2l-12.2,12.2l-12.2,-12.2zM1744.0,1170.8l12.2,12.2l-12.2,12.2l-12.2,-12.2zM1752.4,1186.2l12.2,12.2l-12.2,12.2l-12.2,-12.2zM1760.8,1199.3l12.2,12.2l-12.2,12.2l-12.2,-12.2zM1769.2,1210.9l12.2,12.2l-12.2,12.2l-12.2,-12.2zM1777.7,1222.1l12.2,12.2l-12.2,12.2l-12.2,-12.2zM1786.1,1233.7l12.2,12.2l-12.2,12.2l-12.2,-12.2zM1794.5,1241.6l12.2,12.2l-12.2,12.2l-12.2,-12.2zM1802.9,1248.0l12.2,12.2l-12.2,12.2l-12.2,-12.2zM1811.3,1261.0l12.2,12.2l-12.2,12.2l-12.2,-12.2zM1819.7,1270.5l12.2,12.2l-12.2,12.2l-12.2,-12.2zM1828.2,1277.0l12.2,12.2l-12.2,12.2l-12.2,-12.2zM1836.6,1283.1l12.2,12.2l-12.2,12.2l-12.2,-12.2zM1845.0,1288.0l12.2,12.2l-12.2,12.2l-12.2,-12.2z" stroke-width="6.0" stroke-linejoin="bevel"/></g>
<g fill="none" stroke="#FF6A00"><path d="M574.0,1269.5L582.4,1280.5L590.8,1289.2L599.2,1292.5L607.5,1289.2L615.9,1289.6L624.3,1288.8L632.7,1287.5L641.1,1287.9L649.5,1280.8L657.8,1277.2L666.2,1271.5L674.6,1268.2L683.0,1265.8L691.4,1265.0L699.8,1261.3L708.2,1256.8L716.5,1256.4L724.9,1253.6L733.3,1253.6L741.7,1248.2L750.1,1244.7L758.5,1243.0L766.9,1240.5L775.2,1239.3L783.6,1236.5L792.0,1231.4L800.4,1231.0L808.8,1225.8L817.2,1223.6L825.5,1219.2L833.9,1215.1L842.3,1211.3L850.7,1208.2L859.1,1204.5L867.5,1201.0L875.9,1202.0L884.2,1199.8L892.6,1199.3L901.0,1196.5L909.4,1195.1L917.8,1197.8L926.2,1197.1L934.5,1203.8L942.9,1206.4L951.3,1207.8L959.7,1210.7L968.1,1215.7L976.5,1218.4L984.9,1223.6L993.2,1228.7L1001.6,1231.8L1010.0,1234.3L1018.4,1239.1L1026.8,1240.0L1035.2,1241.3L1043.6,1241.1L1051.9,1240.9L1060.3,1239.1L1068.7,1244.0L1077.1,1247.9L1085.5,1247.5L1093.9,1251.8L1102.2,1255.2L1110.6,1252.2L1119.0,1253.0L1127.4,1255.0L1135.8,1252.3L1144.2,1247.7L1152.6,1241.1L1160.9,1237.4L1169.3,1234.6L1177.7,1230.0L1186.1,1225.7L1194.5,1218.7L1202.9,1217.8L1211.2,1211.7L1219.6,1209.5L1228.0,1202.0L1236.4,1201.3L1244.8,1195.0L1253.2,1191.5L1261.6,1184.6L1269.9,1182.3L1278.3,1179.0L1286.7,1178.0L1295.1,1176.1L1303.5,1174.7L1311.9,1166.7L1320.3,1158.2L1328.6,1147.5L1337.0,1139.7L1345.4,1127.9L1353.8,1121.2L1362.2,1113.0L1370.6,1107.3L1378.9,1097.6L1387.3,1088.6L1395.7,1076.7L1404.1,1069.1L1412.5,1060.9L1420.9,1054.1L1429.3,1049.1L1437.6,1048.5L1446.0,1037.3L1454.4,1030.4L1462.8,1020.5L1471.2,1009.7L1479.6,992.4L1488.0,982.9L1496.3,974.8L1504.7,972.1L1513.1,965.0L1521.5,965.6L1529.9,967.7L1538.3,973.2L1546.6,974.9L1555.0,979.9L1563.4,986.3L1571.8,986.4L1580.2,982.5L1588.6,983.3L1597.0,987.9L1605.3,990.7L1613.7,991.6L1622.1,997.6L1630.5,1004.9L1638.9,1016.2L1647.3,1036.5L1655.6,1052.2L1664.0,1068.2L1672.4,1084.9L1680.8,1098.8L1689.2,1110.5L1697.6,1118.9L1706.0,1130.3L1714.3,1137.2L1722.7,1148.1L1731.1,1154.7L1739.5,1159.4L1747.9,1172.8L1756.3,1181.2L1764.7,1194.1L1773.0,1205.2L1781.4,1214.3L1789.8,1224.8L1798.2,1234.7L1806.6,1239.0L1815.0,1246.0L1823.3,1245.1L1831.7,1252.1L1840.1,1253.3L1848.5,1258.5" stroke-width="8.0" stroke-linejoin="round" stroke-linecap="round"/><path d="M574.0,1257.3l12.2,12.2l-12.2,12.2l-12.2,-12.2zM582.4,1268.3l12.2,12.2l-12.2,12.2l-12.2,-12.2zM590.8,1277.0l12.2,12.2l-12.2,12.2l-12.2,-12.2zM599.2,1280.3l12.2,12.2l-12.2,12.2l-12.2,-12.2zM607.5,1277.0l12.2,12.2l-12.2,12.2l-12.2,-12.2zM615.9,1277.4l12.2,12.2l-12.2,12.2l-12.2,-12.2zM624.3,1276.6l12.2,12.2l-12.2,12.2l-12.2,-12.2zM632.7,1275.3l12.2,12.2l-12.2,12.2l-12.2,-12.2zM641.1,1275.7l12.2,12.2l-12.2,12.2l-12.2,-12.2zM649.5,1268.6l12.2,12.2l-12.2,12.2l-12.2,-12.2zM657.8,1265.0l12.2,12.2l-12.2,12.2l-12.2,-12.2zM666.2,1259.3l12.2,12.2l-12.2,12.2l-12.2,-12.2zM674.6,1256.0l12.2,12.2l-12.2,12.2l-12.2,-12.2zM683.0,1253.6l12.2,12.2l-12.2,12.2l-12.2,-12.2zM691.4,1252.8l12.2,12.2l-12.2,12.2l-12.2,-12.2zM699.8,1249.1l12.2,12.2l-12.2,12.2l-12.2,-12.2zM708.2,1244.6l12.2,12.2l-12.2,12.2l-12.2,-12.2zM716.5,1244.2l12.2,12.2l-12.2,12.2l-12.2,-12.2zM724.9,1241.4l12.2,12.2l-12.2,12.2l-12.2,-12.2zM733.3,1241.4l12.2,12.2l-12.2,12.2l-12.2,-12.2zM741.7,1236.0l12.2,12.2l-12.2,12.2l-12.2,-12.2zM750.1,1232.5l12.2,12.2l-12.2,12.2l-12.2,-12.2zM758.5,1230.8l12.2,12.2l-12.2,12.2l-12.2,-12.2zM766.9,1228.3l12.2,12.2l-12.2,12.2l-12.2,-12.2zM775.2,1227.1l12.2,12.2l-12.2,12.2l-12.2,-12.2zM783.6,1224.3l12.2,12.2l-12.2,12.2l-12.2,-12.2zM792.0,1219.2l12.2,12.2l-12.2,12.2l-12.2,-12.2zM800.4,1218.8l12.2,12.2l-12.2,12.2l-12.2,-12.2zM808.8,1213.6l12.2,12.2l-12.2,12.2l-12.2,-12.2zM817.2,1211.4l12.2,12.2l-12.2,12.2l-12.2,-12.2zM825.5,1207.0l12.2,12.2l-12.2,12.2l-12.2,-12.2zM833.9,1202.9l12.2,12.2l-12.2,12.2l-12.2,-12.2zM842.3,1199.1l12.2,12.2l-12.2,12.2l-12.2,-12.2zM850.7,1196.0l12.2,12.2l-12.2,12.2l-12.2,-12.2zM859.1,1192.3l12.2,12.2l-12.2,12.2l-12.2,-12.2zM867.5,1188.8l12.2,12.2l-12.2,12.2l-12.2,-12.2zM875.9,1189.8l12.2,12.2l-12.2,12.2l-12.2,-12.2zM884.2,1187.6l12.2,12.2l-12.2,12.2l-12.2,-12.2zM892.6,1187.1l12.2,12.2l-12.2,12.2l-12.2,-12.2zM901.0,1184.3l12.2,12.2l-12.2,12.2l-12.2,-12.2zM909.4,1182.9l12.2,12.2l-12.2,12.2l-12.2,-12.2zM917.8,1185.6l12.2,12.2l-12.2,12.2l-12.2,-12.2zM926.2,1184.9l12.2,12.2l-12.2,12.2l-12.2,-12.2zM934.5,1191.6l12.2,12.2l-12.2,12.2l-12.2,-12.2zM942.9,1194.2l12.2,12.2l-12.2,12.2l-12.2,-12.2zM951.3,1195.6l12.2,12.2l-12.2,12.2l-12.2,-12.2zM959.7,1198.5l12.2,12.2l-12.2,12.2l-12.2,-12.2zM968.1,1203.5l12.2,12.2l-12.2,12.2l-12.2,-12.2zM976.5,1206.2l12.2,12.2l-12.2,12.2l-12.2,-12.2zM984.9,1211.4l12.2,12.2l-12.2,12.2l-12.2,-12.2zM993.2,1216.5l12.2,12.2l-12.2,12.2l-12.2,-12.2zM1001.6,1219.6l12.2,12.2l-12.2,12.2l-12.2,-12.2zM1010.0,1222.1l12.2,12.2l-12.2,12.2l-12.2,-12.2zM1018.4,1226.9l12.2,12.2l-12.2,12.2l-12.2,-12.2zM1026.8,1227.8l12.2,12.2l-12.2,12.2l-12.2,-12.2zM1035.2,1229.1l12.2,12.2l-12.2,12.2l-12.2,-12.2zM1043.6,1228.9l12.2,12.2l-12.2,12.2l-12.2,-12.2zM1051.9,1228.7l12.2,12.2l-12.2,12.2l-12.2,-12.2zM1060.3,1226.9l12.2,12.2l-12.2,12.2l-12.2,-12.2zM1068.7,1231.8l12.2,12.2l-12.2,12.2l-12.2,-12.2zM1077.1,1235.7l12.2,12.2l-12.2,12.2l-12.2,-12.2zM1085.5,1235.3l12.2,12.2l-12.2,12.2l-12.2,-12.2zM1093.9,1239.6l12.2,12.2l-12.2,12.2l-12.2,-12.2zM1102.2,1243.0l12.2,12.2l-12.2,12.2l-12.2,-12.2zM1110.6,1240.0l12.2,12.2l-12.2,12.2l-12.2,-12.2zM1119.0,1240.8l12.2,12.2l-12.2,12.2l-12.2,-12.2zM1127.4,1242.8l12.2,12.2l-12.2,12.2l-12.2,-12.2zM1135.8,1240.1l12.2,12.2l-12.2,12.2l-12.2,-12.2zM1144.2,1235.5l12.2,12.2l-12.2,12.2l-12.2,-12.2zM1152.6,1228.9l12.2,12.2l-12.2,12.2l-12.2,-12.2zM1160.9,1225.2l12.2,12.2l-12.2,12.2l-12.2,-12.2zM1169.3,1222.4l12.2,12.2l-12.2,12.2l-12.2,-12.2zM1177.7,1217.8l12.2,12.2l-12.2,12.2l-12.2,-12.2zM1186.1,1213.5l12.2,12.2l-12.2,12.2l-12.2,-12.2zM1194.5,1206.5l12.2,12.2l-12.2,12.2l-12.2,-12.2zM1202.9,1205.6l12.2,12.2l-12.2,12.2l-12.2,-12.2zM1211.2,1199.5l12.2,12.2l-12.2,12.2l-12.2,-12.2zM1219.6,1197.3l12.2,12.2l-12.2,12.2l-12.2,-12.2zM1228.0,1189.8l12.2,12.2l-12.2,12.2l-12.2,-12.2zM1236.4,1189.1l12.2,12.2l-12.2,12.2l-12.2,-12.2zM1244.8,1182.8l12.2,12.2l-12.2,12.2l-12.2,-12.2zM1253.2,1179.3l12.2,12.2l-12.2,12.2l-12.2,-12.2zM1261.6,1172.4l12.2,12.2l-12.2,12.2l-12.2,-12.2zM1269.9,1170.1l12.2,12.2l-12.2,12.2l-12.2,-12.2zM1278.3,1166.8l12.2,12.2l-12.2,12.2l-12.2,-12.2zM1286.7,1165.8l12.2,12.2l-12.2,12.2l-12.2,-12.2zM1295.1,1163.9l12.2,12.2l-12.2,12.2l-12.2,-12.2zM1303.5,1162.5l12.2,12.2l-12.2,12.2l-12.2,-12.2zM1311.9,1154.5l12.2,12.2l-12.2,12.2l-12.2,-12.2zM1320.3,1146.0l12.2,12.2l-12.2,12.2l-12.2,-12.2zM1328.6,1135.3l12.2,12.2l-12.2,12.2l-12.2,-12.2zM1337.0,1127.5l12.2,12.2l-12.2,12.2l-12.2,-12.2zM1345.4,1115.7l12.2,12.2l-12.2,12.2l-12.2,-12.2zM1353.8,1109.0l12.2,12.2l-12.2,12.2l-12.2,-12.2zM1362.2,1100.8l12.2,12.2l-12.2,12.2l-12.2,-12.2zM1370.6,1095.1l12.2,12.2l-12.2,12.2l-12.2,-12.2zM1378.9,1085.4l12.2,12.2l-12.2,12.2l-12.2,-12.2zM1387.3,1076.4l12.2,12.2l-12.2,12.2l-12.2,-12.2zM1395.7,1064.5l12.2,12.2l-12.2,12.2l-12.2,-12.2zM1404.1,1056.9l12.2,12.2l-12.2,12.2l-12.2,-12.2zM1412.5,1048.7l12.2,12.2l-12.2,12.2l-12.2,-12.2zM1420.9,1041.9l12.2,12.2l-12.2,12.2l-12.2,-12.2zM1429.3,1036.9l12.2,12.2l-12.2,12.2l-12.2,-12.2zM1437.6,1036.3l12.2,12.2l-12.2,12.2l-12.2,-12.2zM1446.0,1025.1l12.2,12.2l-12.2,12.2l-12.2,-12.2zM1454.4,1018.2l12.2,12.2l-12.2,12.2l-12.2,-12.2zM1462.8,1008.3l12.2,12.2l-12.2,12.2l-12.2,-12.2zM1471.2,997.5l12.2,12.2l-12.2,12.2l-12.2,-12.2zM1479.6,980.2l12.2,12.2l-12.2,12.2l-12.2,-12.2zM1488.0,970.7l12.2,12.2l-12.2,12.2l-12.2,-12.2zM1496.3,962.6l12.2,12.2l-12.2,12.2l-12.2,-12.2zM1504.7,959.9l12.2,12.2l-12.2,12.2l-12.2,-12.2zM1513.1,952.8l12.2,12.2l-12.2,12.2l-12.2,-12.2zM1521.5,953.4l12.2,12.2l-12.2,12.2l-12.2,-12.2zM1529.9,955.5l12.2,12.2l-12.2,12.2l-12.2,-12.2zM1538.3,961.0l12.2,12.2l-12.2,12.2l-12.2,-12.2zM1546.6,962.7l12.2,12.2l-12.2,12.2l-12.2,-12.2zM1555.0,967.7l12.2,12.2l-12.2,12.2l-12.2,-12.2zM1563.4,974.1l12.2,12.2l-12.2,12.2l-12.2,-12.2zM1571.8,974.2l12.2,12.2l-12.2,12.2l-12.2,-12.2zM1580.2,970.3l12.2,12.2l-12.2,12.2l-12.2,-12.2zM1588.6,971.1l12.2,12.2l-12.2,12.2l-12.2,-12.2zM1597.0,975.7l12.2,12.2l-12.2,12.2l-12.2,-12.2zM1605.3,978.5l12.2,12.2l-12.2,12.2l-12.2,-12.2zM1613.7,979.4l12.2,12.2l-12.2,12.2l-12.2,-12.2zM1622.1,985.4l12.2,12.2l-12.2,12.2l-12.2,-12.2zM1630.5,992.7l12.2,12.2l-12.2,12.2l-12.2,-12.2zM1638.9,1004.0l12.2,12.2l-12.2,12.2l-12.2,-12.2zM1647.3,1024.3l12.2,12.2l-12.2,12.2l-12.2,-12.2zM1655.6,1040.0l12.2,12.2l-12.2,12.2l-12.2,-12.2zM1664.0,1056.0l12.2,12.2l-12.2,12.2l-12.2,-12.2zM1672.4,1072.7l12.2,12.2l-12.2,12.2l-12.2,-12.2zM1680.8,1086.6l12.2,12.2l-12.2,12.2l-12.2,-12.2zM1689.2,1098.3l12.2,12.2l-12.2,12.2l-12.2,-12.2zM1697.6,1106.7l12.2,12.2l-12.2,12.2l-12.2,-12.2zM1706.0,1118.1l12.2,12.2l-12.2,12.2l-12.2,-12.2zM1714.3,1125.0l12.2,12.2l-12.2,12.2l-12.2,-12.2zM1722.7,1135.9l12.2,12.2l-12.2,12.2l-12.2,-12.2zM1731.1,1142.5l12.2,12.2l-12.2,12.2l-12.2,-12.2zM1739.5,1147.2l12.2,12.2l-12.2,12.2l-12.2,-12.2zM1747.9,1160.6l12.2,12.2l-12.2,12.2l-12.2,-12.2zM1756.3,1169.0l12.2,12.2l-12.2,12.2l-12.2,-12.2zM1764.7,1181.9l12.2,12.2l-12.2,12.2l-12.2,-12.2zM1773.0,1193.0l12.2,12.2l-12.2,12.2l-12.2,-12.2zM1781.4,1202.1l12.2,12.2l-12.2,12.2l-12.2,-12.2zM1789.8,1212.6l12.2,12.2l-12.2,12.2l-12.2,-12.2zM1798.2,1222.5l12.2,12.2l-12.2,12.2l-12.2,-12.2zM1806.6,1226.8l12.2,12.2l-12.2,12.2l-12.2,-12.2zM1815.0,1233.8l12.2,12.2l-12.2,12.2l-12.2,-12.2zM1823.3,1232.9l12.2,12.2l-12.2,12.2l-12.2,-12.2zM1831.7,1239.9l12.2,12.2l-12.2,12.2l-12.2,-12.2zM1840.1,1241.1l12.2,12.2l-12.2,12.2l-12.2,-12.2zM1848.5,1246.3l12.2,12.2l-12.2,12.2l-12.2,-12.2z" stroke-width="6.0" stroke-linejoin="bevel"/></g>
<g fill="none" stroke="#7F2AA2"><path d="M574.0,1272.5L582.4,1280.4L590.8,1283.5L599.1,1286.8L607.5,1284.1L615.9,1282.7L624.3,1283.5L632.7,1280.3L641.1,1274.9L649.4,1273.7L657.8,1269.5L666.2,1269.0L674.6,1263.0L683.0,1260.2L691.3,1260.2L699.7,1253.8L708.1,1248.4L716.5,1246.3L724.9,1240.6L733.2,1234.9L741.6,1233.6L750.0,1230.0L758.4,1223.6L766.8,1222.4L775.2,1216.3L783.5,1214.7L791.9,1211.2L800.3,1209.6L808.7,1211.2L817.1,1205.5L825.4,1205.7L833.8,1199.1L842.2,1195.1L850.6,1191.4L859.0,1185.7L867.4,1179.1L875.7,1177.6L884.1,1174.5L892.5,1170.4L900.9,1168.4L909.3,1170.9L917.6,1169.2L926.0,1168.9L934.4,1175.7L942.8,1180.2L951.2,1185.8L959.6,1186.1L967.9,1186.7L976.3,1194.3L984.7,1195.2L993.1,1200.9L1001.5,1204.0L1009.8,1210.5L1018.2,1208.4L1026.6,1209.7L1035.0,1206.0L1043.4,1206.3L1051.8,1206.2L1060.1,1206.0L1068.5,1208.5L1076.9,1213.2L1085.3,1218.0L1093.7,1223.5L1102.0,1224.3L1110.4,1227.6L1118.8,1226.1L1127.2,1228.0L1135.6,1226.6L1143.9,1220.2L1152.3,1219.3L1160.7,1222.7L1169.1,1223.3L1177.5,1220.9L1185.9,1223.5L1194.2,1223.7L1202.6,1221.0L1211.0,1221.2L1219.4,1223.0L1227.8,1225.0L1236.1,1222.1L1244.5,1224.0L1252.9,1226.3L1261.3,1229.7L1269.7,1227.9L1278.1,1225.5L1286.4,1225.8L1294.8,1223.7L1303.2,1223.0L1311.6,1223.1L1320.0,1217.5L1328.3,1212.4L1336.7,1212.1L1345.1,1206.1L1353.5,1204.0L1361.9,1203.4L1370.2,1205.0L1378.6,1206.6L1387.0,1209.1L1395.4,1214.9L1403.8,1213.9L1412.2,1215.3L1420.5,1216.9L1428.9,1216.4L1437.3,1210.9L1445.7,1211.7L1454.1,1208.8L1462.4,1208.7L1470.8,1207.8L1479.2,1212.1L1487.6,1217.4L1496.0,1221.3L1504.4,1226.3L1512.7,1226.7L1521.1,1229.9L1529.5,1236.0L1537.9,1236.3L1546.3,1238.6L1554.6,1237.8L1563.0,1243.5L1571.4,1245.2L1579.8,1247.3L1588.2,1255.7L1596.6,1259.3L1604.9,1265.2L1613.3,1271.0L1621.7,1275.4L1630.1,1279.5L1638.5,1282.4L1646.8,1277.7L1655.2,1276.8L1663.6,1276.4L1672.0,1275.6L1680.4,1273.9L1688.8,1276.0L1697.1,1274.9L1705.5,1277.8L1713.9,1279.8L1722.3,1279.0L1730.7,1279.3L1739.0,1278.7L1747.4,1281.3L1755.8,1277.9L1764.2,1280.1L1772.6,1278.2L1780.9,1281.2L1789.3,1281.8L1797.7,1279.7L1806.1,1280.4L1814.5,1276.1L1822.9,1272.8L1831.2,1268.0L1839.6,1267.4L1848.0,1263.9" stroke-width="8.0" stroke-linejoin="round" stroke-linecap="round"/><path d="M574.0,1260.3l12.2,12.2l-12.2,12.2l-12.2,-12.2zM582.4,1268.2l12.2,12.2l-12.2,12.2l-12.2,-12.2zM590.8,1271.3l12.2,12.2l-12.2,12.2l-12.2,-12.2zM599.1,1274.6l12.2,12.2l-12.2,12.2l-12.2,-12.2zM607.5,1271.9l12.2,12.2l-12.2,12.2l-12.2,-12.2zM615.9,1270.5l12.2,12.2l-12.2,12.2l-12.2,-12.2zM624.3,1271.3l12.2,12.2l-12.2,12.2l-12.2,-12.2zM632.7,1268.1l12.2,12.2l-12.2,12.2l-12.2,-12.2zM641.1,1262.7l12.2,12.2l-12.2,12.2l-12.2,-12.2zM649.4,1261.5l12.2,12.2l-12.2,12.2l-12.2,-12.2zM657.8,1257.3l12.2,12.2l-12.2,12.2l-12.2,-12.2zM666.2,1256.8l12.2,12.2l-12.2,12.2l-12.2,-12.2zM674.6,1250.8l12.2,12.2l-12.2,12.2l-12.2,-12.2zM683.0,1248.0l12.2,12.2l-12.2,12.2l-12.2,-12.2zM691.3,1248.0l12.2,12.2l-12.2,12.2l-12.2,-12.2zM699.7,1241.6l12.2,12.2l-12.2,12.2l-12.2,-12.2zM708.1,1236.2l12.2,12.2l-12.2,12.2l-12.2,-12.2zM716.5,1234.1l12.2,12.2l-12.2,12.2l-12.2,-12.2zM724.9,1228.4l12.2,12.2l-12.2,12.2l-12.2,-12.2zM733.2,1222.7l12.2,12.2l-12.2,12.2l-12.2,-12.2zM741.6,1221.4l12.2,12.2l-12.2,12.2l-12.2,-12.2zM750.0,1217.8l12.2,12.2l-12.2,12.2l-12.2,-12.2zM758.4,1211.4l12.2,12.2l-12.2,12.2l-12.2,-12.2zM766.8,1210.2l12.2,12.2l-12.2,12.2l-12.2,-12.2zM775.2,1204.1l12.2,12.2l-12.2,12.2l-12.2,-12.2zM783.5,1202.5l12.2,12.2l-12.2,12.2l-12.2,-12.2zM791.9,1199.0l12.2,12.2l-12.2,12.2l-12.2,-12.2zM800.3,1197.4l12.2,12.2l-12.2,12.2l-12.2,-12.2zM808.7,1199.0l12.2,12.2l-12.2,12.2l-12.2,-12.2zM817.1,1193.3l12.2,12.2l-12.2,12.2l-12.2,-12.2zM825.4,1193.5l12.2,12.2l-12.2,12.2l-12.2,-12.2zM833.8,1186.9l12.2,12.2l-12.2,12.2l-12.2,-12.2zM842.2,1182.9l12.2,12.2l-12.2,12.2l-12.2,-12.2zM850.6,1179.2l12.2,12.2l-12.2,12.2l-12.2,-12.2zM859.0,1173.5l12.2,12.2l-12.2,12.2l-12.2,-12.2zM867.4,1166.9l12.2,12.2l-12.2,12.2l-12.2,-12.2zM875.7,1165.4l12.2,12.2l-12.2,12.2l-12.2,-12.2zM884.1,1162.3l12.2,12.2l-12.2,12.2l-12.2,-12.2zM892.5,1158.2l12.2,12.2l-12.2,12.2l-12.2,-12.2zM900.9,1156.2l12.2,12.2l-12.2,12.2l-12.2,-12.2zM909.3,1158.7l12.2,12.2l-12.2,12.2l-12.2,-12.2zM917.6,1157.0l12.2,12.2l-12.2,12.2l-12.2,-12.2zM926.0,1156.7l12.2,12.2l-12.2,12.2l-12.2,-12.2zM934.4,1163.5l12.2,12.2l-12.2,12.2l-12.2,-12.2zM942.8,1168.0l12.2,12.2l-12.2,12.2l-12.2,-12.2zM951.2,1173.6l12.2,12.2l-12.2,12.2l-12.2,-12.2zM959.6,1173.9l12.2,12.2l-12.2,12.2l-12.2,-12.2zM967.9,1174.5l12.2,12.2l-12.2,12.2l-12.2,-12.2zM976.3,1182.1l12.2,12.2l-12.2,12.2l-12.2,-12.2zM984.7,1183.0l12.2,12.2l-12.2,12.2l-12.2,-12.2zM993.1,1188.7l12.2,12.2l-12.2,12.2l-12.2,-12.2zM1001.5,1191.8l12.2,12.2l-12.2,12.2l-12.2,-12.2zM1009.8,1198.3l12.2,12.2l-12.2,12.2l-12.2,-12.2zM1018.2,1196.2l12.2,12.2l-12.2,12.2l-12.2,-12.2zM1026.6,1197.5l12.2,12.2l-12.2,12.2l-12.2,-12.2zM1035.0,1193.8l12.2,12.2l-12.2,12.2l-12.2,-12.2zM1043.4,1194.1l12.2,12.2l-12.2,12.2l-12.2,-12.2zM1051.8,1194.0l12.2,12.2l-12.2,12.2l-12.2,-12.2zM1060.1,1193.8l12.2,12.2l-12.2,12.2l-12.2,-12.2zM1068.5,1196.3l12.2,12.2l-12.2,12.2l-12.2,-12.2zM1076.9,1201.0l12.2,12.2l-12.2,12.2l-12.2,-12.2zM1085.3,1205.8l12.2,12.2l-12.2,12.2l-12.2,-12.2zM1093.7,1211.3l12.2,12.2l-12.2,12.2l-12.2,-12.2zM1102.0,1212.1l12.2,12.2l-12.2,12.2l-12.2,-12.2zM1110.4,1215.4l12.2,12.2l-12.2,12.2l-12.2,-12.2zM1118.8,1213.9l12.2,12.2l-12.2,12.2l-12.2,-12.2zM1127.2,1215.8l12.2,12.2l-12.2,12.2l-12.2,-12.2zM1135.6,1214.4l12.2,12.2l-12.2,12.2l-12.2,-12.2zM1143.9,1208.0l12.2,12.2l-12.2,12.2l-12.2,-12.2zM1152.3,1207.1l12.2,12.2l-12.2,12.2l-12.2,-12.2zM1160.7,1210.5l12.2,12.2l-12.2,12.2l-12.2,-12.2zM1169.1,1211.1l12.2,12.2l-12.2,12.2l-12.2,-12.2zM1177.5,1208.7l12.2,12.2l-12.2,12.2l-12.2,-12.2zM1185.9,1211.3l12.2,12.2l-12.2,12.2l-12.2,-12.2zM1194.2,1211.5l12.2,12.2l-12.2,12.2l-12.2,-12.2zM1202.6,1208.8l12.2,12.2l-12.2,12.2l-12.2,-12.2zM1211.0,1209.0l12.2,12.2l-12.2,12.2l-12.2,-12.2zM1219.4,1210.8l12.2,12.2l-12.2,12.2l-12.2,-12.2zM1227.8,1212.8l12.2,12.2l-12.2,12.2l-12.2,-12.2zM1236.1,1209.9l12.2,12.2l-12.2,12.2l-12.2,-12.2zM1244.5,1211.8l12.2,12.2l-12.2,12.2l-12.2,-12.2zM1252.9,1214.1l12.2,12.2l-12.2,12.2l-12.2,-12.2zM1261.3,1217.5l12.2,12.2l-12.2,12.2l-12.2,-12.2zM1269.7,1215.7l12.2,12.2l-12.2,12.2l-12.2,-12.2zM1278.1,1213.3l12.2,12.2l-12.2,12.2l-12.2,-12.2zM1286.4,1213.6l12.2,12.2l-12.2,12.2l-12.2,-12.2zM1294.8,1211.5l12.2,12.2l-12.2,12.2l-12.2,-12.2zM1303.2,1210.8l12.2,12.2l-12.2,12.2l-12.2,-12.2zM1311.6,1210.9l12.2,12.2l-12.2,12.2l-12.2,-12.2zM1320.0,1205.3l12.2,12.2l-12.2,12.2l-12.2,-12.2zM1328.3,1200.2l12.2,12.2l-12.2,12.2l-12.2,-12.2zM1336.7,1199.9l12.2,12.2l-12.2,12.2l-12.2,-12.2zM1345.1,1193.9l12.2,12.2l-12.2,12.2l-12.2,-12.2zM1353.5,1191.8l12.2,12.2l-12.2,12.2l-12.2,-12.2zM1361.9,1191.2l12.2,12.2l-12.2,12.2l-12.2,-12.2zM1370.2,1192.8l12.2,12.2l-12.2,12.2l-12.2,-12.2zM1378.6,1194.4l12.2,12.2l-12.2,12.2l-12.2,-12.2zM1387.0,1196.9l12.2,12.2l-12.2,12.2l-12.2,-12.2zM1395.4,1202.7l12.2,12.2l-12.2,12.2l-12.2,-12.2zM1403.8,1201.7l12.2,12.2l-12.2,12.2l-12.2,-12.2zM1412.2,1203.1l12.2,12.2l-12.2,12.2l-12.2,-12.2zM1420.5,1204.7l12.2,12.2l-12.2,12.2l-12.2,-12.2zM1428.9,1204.2l12.2,12.2l-12.2,12.2l-12.2,-12.2zM1437.3,1198.7l12.2,12.2l-12.2,12.2l-12.2,-12.2zM1445.7,1199.5l12.2,12.2l-12.2,12.2l-12.2,-12.2zM1454.1,1196.6l12.2,12.2l-12.2,12.2l-12.2,-12.2zM1462.4,1196.5l12.2,12.2l-12.2,12.2l-12.2,-12.2zM1470.8,1195.6l12.2,12.2l-12.2,12.2l-12.2,-12.2zM1479.2,1199.9l12.2,12.2l-12.2,12.2l-12.2,-12.2zM1487.6,1205.2l12.2,12.2l-12.2,12.2l-12.2,-12.2zM1496.0,1209.1l12.2,12.2l-12.2,12.2l-12.2,-12.2zM1504.4,1214.1l12.2,12.2l-12.2,12.2l-12.2,-12.2zM1512.7,1214.5l12.2,12.2l-12.2,12.2l-12.2,-12.2zM1521.1,1217.7l12.2,12.2l-12.2,12.2l-12.2,-12.2zM1529.5,1223.8l12.2,12.2l-12.2,12.2l-12.2,-12.2zM1537.9,1224.1l12.2,12.2l-12.2,12.2l-12.2,-12.2zM1546.3,1226.4l12.2,12.2l-12.2,12.2l-12.2,-12.2zM1554.6,1225.6l12.2,12.2l-12.2,12.2l-12.2,-12.2zM1563.0,1231.3l12.2,12.2l-12.2,12.2l-12.2,-12.2zM1571.4,1233.0l12.2,12.2l-12.2,12.2l-12.2,-12.2zM1579.8,1235.1l12.2,12.2l-12.2,12.2l-12.2,-12.2zM1588.2,1243.5l12.2,12.2l-12.2,12.2l-12.2,-12.2zM1596.6,1247.1l12.2,12.2l-12.2,12.2l-12.2,-12.2zM1604.9,1253.0l12.2,12.2l-12.2,12.2l-12.2,-12.2zM1613.3,1258.8l12.2,12.2l-12.2,12.2l-12.2,-12.2zM1621.7,1263.2l12.2,12.2l-12.2,12.2l-12.2,-12.2zM1630.1,1267.3l12.2,12.2l-12.2,12.2l-12.2,-12.2zM1638.5,1270.2l12.2,12.2l-12.2,12.2l-12.2,-12.2zM1646.8,1265.5l12.2,12.2l-12.2,12.2l-12.2,-12.2zM1655.2,1264.6l12.2,12.2l-12.2,12.2l-12.2,-12.2zM1663.6,1264.2l12.2,12.2l-12.2,12.2l-12.2,-12.2zM1672.0,1263.4l12.2,12.2l-12.2,12.2l-12.2,-12.2zM1680.4,1261.7l12.2,12.2l-12.2,12.2l-12.2,-12.2zM1688.8,1263.8l12.2,12.2l-12.2,12.2l-12.2,-12.2zM1697.1,1262.7l12.2,12.2l-12.2,12.2l-12.2,-12.2zM1705.5,1265.6l12.2,12.2l-12.2,12.2l-12.2,-12.2zM1713.9,1267.6l12.2,12.2l-12.2,12.2l-12.2,-12.2zM1722.3,1266.8l12.2,12.2l-12.2,12.2l-12.2,-12.2zM1730.7,1267.1l12.2,12.2l-12.2,12.2l-12.2,-12.2zM1739.0,1266.5l12.2,12.2l-12.2,12.2l-12.2,-12.2zM1747.4,1269.1l12.2,12.2l-12.2,12.2l-12.2,-12.2zM1755.8,1265.7l12.2,12.2l-12.2,12.2l-12.2,-12.2zM1764.2,1267.9l12.2,12.2l-12.2,12.2l-12.2,-12.2zM1772.6,1266.0l12.2,12.2l-12.2,12.2l-12.2,-12.2zM1780.9,1269.0l12.2,12.2l-12.2,12.2l-12.2,-12.2zM1789.3,1269.6l12.2,12.2l-12.2,12.2l-12.2,-12.2zM1797.7,1267.5l12.2,12.2l-12.2,12.2l-12.2,-12.2zM1806.1,1268.2l12.2,12.2l-12.2,12.2l-12.2,-12.2zM1814.5,1263.9l12.2,12.2l-12.2,12.2l-12.2,-12.2zM1822.9,1260.6l12.2,12.2l-12.2,12.2l-12.2,-12.2zM1831.2,1255.8l12.2,12.2l-12.2,12.2l-12.2,-12.2zM1839.6,1255.2l12.2,12.2l-12.2,12.2l-12.2,-12.2zM1848.0,1251.7l12.2,12.2l-12.2,12.2l-12.2,-12.2z" stroke-width="6.0" stroke-linejoin="bevel"/></g>
<text transform="translate(303.5,1328.6) scale(0.96,1)" font-size="97" text-anchor="end">0</text>
<text transform="translate(303.5,1083.5) scale(0.945,1)" font-size="97" text-anchor="end">0.2</text>
<text transform="translate(303.5,838) scale(0.945,1)" font-size="97" text-anchor="end">0.4</text>
<text transform="translate(303.5,592.8) scale(0.945,1)" font-size="97" text-anchor="end">0.6</text>
<text transform="translate(303.5,347) scale(0.945,1)" font-size="97" text-anchor="end">0.8</text>
<text transform="translate(301,101.4) scale(0.9,1)" font-size="97" text-anchor="end">1</text>
<text transform="translate(382,1438.6) scale(0.965,1)" font-size="97" text-anchor="middle">0</text>
<text transform="translate(701.5,1438.6) scale(0.965,1)" font-size="97" text-anchor="middle">200</text>
<text transform="translate(1021,1438.6) scale(0.965,1)" font-size="97" text-anchor="middle">400</text>
<text transform="translate(1340.8,1438.6) scale(0.965,1)" font-size="97" text-anchor="middle">600</text>
<text transform="translate(1662,1438.6) scale(0.965,1)" font-size="97" text-anchor="middle">800</text>
<text transform="translate(1984.5,1438.6) scale(0.932,1)" font-size="97" text-anchor="middle">1000</text>
<text transform="translate(1192.6,1573.5) scale(0.973,1)" font-size="102.5" text-anchor="middle" font-weight="bold">Temperature (<tspan font-size="102.5" dy="-0">º</tspan><tspan dy="0">C)</tspan></text>
<text transform="translate(111.3,675.5) rotate(-90)" font-size="102" text-anchor="middle" font-weight="bold">CO<tspan font-size="70" dy="24">2</tspan><tspan dy="-24"> (µmol/gs)</tspan></text>
<text transform="translate(430,192.6)" font-size="101" text-anchor="start" font-weight="bold">(a)</text>
<g fill="none" stroke="#000000"><line x1="1277.2" y1="160.9" x2="1436.9" y2="160.9" stroke-width="8.0" stroke-linecap="round"/><path d="M1357.1,148.7l12.2,12.2l-12.2,12.2l-12.2,-12.2z" stroke-width="6.0" stroke-linejoin="bevel"/></g>
<text transform="translate(1453.4,190.6) scale(0.964,1)" font-size="96" text-anchor="start">KUA</text>
<g fill="none" stroke="#808080"><line x1="1277.2" y1="273.4" x2="1436.9" y2="273.4" stroke-width="8.0" stroke-linecap="round"/><path d="M1357.1,261.2l12.2,12.2l-12.2,12.2l-12.2,-12.2z" stroke-width="6.0" stroke-linejoin="bevel"/></g>
<text transform="translate(1453.4,302.9) scale(0.964,1)" font-size="96" text-anchor="start">KUA<tspan dy="7.8">_</tspan><tspan dy="-7.8">800</tspan></text>
<g fill="none" stroke="#0070C0"><line x1="1277.2" y1="385.9" x2="1436.9" y2="385.9" stroke-width="8.0" stroke-linecap="round"/><path d="M1357.1,373.7l12.2,12.2l-12.2,12.2l-12.2,-12.2z" stroke-width="6.0" stroke-linejoin="bevel"/></g>
<text transform="translate(1453.4,415.3) scale(0.964,1)" font-size="96" text-anchor="start">KUA-N</text>
<g fill="none" stroke="#FF6A00"><line x1="1277.2" y1="498.2" x2="1436.9" y2="498.2" stroke-width="8.0" stroke-linecap="round"/><path d="M1357.1,486.0l12.2,12.2l-12.2,12.2l-12.2,-12.2z" stroke-width="6.0" stroke-linejoin="bevel"/></g>
<text transform="translate(1453.4,527.9) scale(0.964,1)" font-size="96" text-anchor="start">KUA-N<tspan dy="7.8">_</tspan><tspan dy="-7.8">500</tspan></text>
<g fill="none" stroke="#7F2AA2"><line x1="1277.2" y1="610.6" x2="1436.9" y2="610.6" stroke-width="8.0" stroke-linecap="round"/><path d="M1357.1,598.4l12.2,12.2l-12.2,12.2l-12.2,-12.2z" stroke-width="6.0" stroke-linejoin="bevel"/></g>
<text transform="translate(1453.4,639.9) scale(0.964,1)" font-size="96" text-anchor="start">KUA-N<tspan dy="7.8">_</tspan><tspan dy="-7.8">800</tspan></text>
</g>
<g id="chart-b">
<g fill="#000">
<rect x="353" y="1816" width="1631" height="5.5"/>
<rect x="1979" y="1816" width="5" height="1226"/>
<rect x="380" y="1816" width="6" height="1226"/>
<rect x="353" y="3010" width="1631" height="5"/>
<rect x="353" y="2772.9" width="33" height="5"/>
<rect x="353" y="2530.9" width="33" height="5"/>
<rect x="353" y="2293.9" width="33" height="5"/>
<rect x="353" y="2053" width="33" height="5"/>
<rect x="696.3" y="3010" width="5" height="32"/>
<rect x="1016.7" y="3010" width="5" height="32"/>
<rect x="1338" y="3010" width="5" height="32"/>
<rect x="1657.6" y="3010" width="5" height="32"/>
</g>
<g fill="none" stroke="#000000"><path d="M574.0,3012.5L582.4,3011.7L590.8,3010.0L599.2,3008.2L607.6,3006.5L616.0,3005.4L624.4,3004.6L632.8,3003.8L641.3,3004.4L649.7,3002.0L658.1,3002.3L666.5,3008.3L674.9,3005.3L683.3,3003.8L691.7,3004.8L700.1,2999.9L708.5,2996.1L716.9,2993.9L725.3,2994.2L733.7,2988.6L742.1,2986.4L750.5,2984.6L758.9,2982.3L767.3,2977.5L775.8,2972.2L784.2,2971.3L792.6,2965.4L801.0,2962.4L809.4,2959.6L817.8,2959.2L826.2,2954.3L834.6,2952.6L843.0,2945.2L851.4,2940.6L859.8,2935.2L868.2,2931.1L876.6,2927.5L885.0,2919.4L893.4,2910.5L901.9,2901.8L910.3,2899.3L918.7,2891.0L927.1,2881.8L935.5,2874.9L943.9,2865.3L952.3,2855.6L960.7,2845.6L969.1,2841.5L977.5,2835.2L985.9,2829.1L994.3,2822.6L1002.7,2821.4L1011.1,2815.4L1019.5,2808.3L1027.9,2803.9L1036.4,2797.0L1044.8,2791.8L1053.2,2786.2L1061.6,2783.3L1070.0,2777.0L1078.4,2771.3L1086.8,2769.6L1095.2,2764.4L1103.6,2754.6L1112.0,2750.1L1120.4,2736.3L1128.8,2729.5L1137.2,2716.9L1145.6,2706.6L1154.0,2694.4L1162.5,2679.0L1170.9,2666.9L1179.3,2650.0L1187.7,2639.6L1196.1,2623.3L1204.5,2611.5L1212.9,2598.2L1221.3,2581.3L1229.7,2569.5L1238.1,2551.6L1246.5,2537.2L1254.9,2519.5L1263.3,2505.3L1271.7,2486.4L1280.1,2466.5L1288.5,2446.8L1297.0,2429.1L1305.4,2413.0L1313.8,2393.6L1322.2,2376.0L1330.6,2360.9L1339.0,2341.3L1347.4,2320.1L1355.8,2302.3L1364.2,2283.9L1372.6,2268.2L1381.0,2254.1L1389.4,2242.2L1397.8,2233.8L1406.2,2226.8L1414.6,2221.1L1423.1,2216.8L1431.5,2213.0L1439.9,2206.8L1448.3,2201.9L1456.7,2196.3L1465.1,2193.1L1473.5,2189.9L1481.9,2182.4L1490.3,2177.8L1498.7,2170.8L1507.1,2159.5L1515.5,2150.8L1523.9,2141.2L1532.3,2134.3L1540.7,2122.4L1549.1,2113.7L1557.6,2106.7L1566.0,2093.5L1574.4,2085.0L1582.8,2070.4L1591.2,2060.8L1599.6,2047.0L1608.0,2032.7L1616.4,2022.5L1624.8,2008.9L1633.2,2002.3L1641.6,1993.0L1650.0,1985.4L1658.4,1980.4L1666.8,1971.3L1675.2,1967.3L1683.7,1962.4L1692.1,1958.6L1700.5,1960.6L1708.9,1968.0L1717.3,1972.5L1725.7,1988.9L1734.1,1999.7L1742.5,2023.4L1750.9,2049.3L1759.3,2076.1L1767.7,2103.2L1776.1,2125.3L1784.5,2144.5L1792.9,2163.9L1801.3,2180.3L1809.7,2199.0L1818.2,2215.7L1826.6,2229.9L1835.0,2250.1L1843.4,2266.4L1851.8,2282.9L1860.2,2298.9L1868.6,2310.6L1877.0,2316.4" stroke-width="9.0" stroke-linejoin="round" stroke-linecap="round"/><path d="M574.0,3000.3l12.2,12.2l-12.2,12.2l-12.2,-12.2zM582.4,2999.5l12.2,12.2l-12.2,12.2l-12.2,-12.2zM590.8,2997.8l12.2,12.2l-12.2,12.2l-12.2,-12.2zM599.2,2996.0l12.2,12.2l-12.2,12.2l-12.2,-12.2zM607.6,2994.3l12.2,12.2l-12.2,12.2l-12.2,-12.2zM616.0,2993.2l12.2,12.2l-12.2,12.2l-12.2,-12.2zM624.4,2992.4l12.2,12.2l-12.2,12.2l-12.2,-12.2zM632.8,2991.6l12.2,12.2l-12.2,12.2l-12.2,-12.2zM641.3,2992.2l12.2,12.2l-12.2,12.2l-12.2,-12.2zM649.7,2989.8l12.2,12.2l-12.2,12.2l-12.2,-12.2zM658.1,2990.1l12.2,12.2l-12.2,12.2l-12.2,-12.2zM666.5,2996.1l12.2,12.2l-12.2,12.2l-12.2,-12.2zM674.9,2993.1l12.2,12.2l-12.2,12.2l-12.2,-12.2zM683.3,2991.6l12.2,12.2l-12.2,12.2l-12.2,-12.2zM691.7,2992.6l12.2,12.2l-12.2,12.2l-12.2,-12.2zM700.1,2987.7l12.2,12.2l-12.2,12.2l-12.2,-12.2zM708.5,2983.9l12.2,12.2l-12.2,12.2l-12.2,-12.2zM716.9,2981.7l12.2,12.2l-12.2,12.2l-12.2,-12.2zM725.3,2982.0l12.2,12.2l-12.2,12.2l-12.2,-12.2zM733.7,2976.4l12.2,12.2l-12.2,12.2l-12.2,-12.2zM742.1,2974.2l12.2,12.2l-12.2,12.2l-12.2,-12.2zM750.5,2972.4l12.2,12.2l-12.2,12.2l-12.2,-12.2zM758.9,2970.1l12.2,12.2l-12.2,12.2l-12.2,-12.2zM767.3,2965.3l12.2,12.2l-12.2,12.2l-12.2,-12.2zM775.8,2960.0l12.2,12.2l-12.2,12.2l-12.2,-12.2zM784.2,2959.1l12.2,12.2l-12.2,12.2l-12.2,-12.2zM792.6,2953.2l12.2,12.2l-12.2,12.2l-12.2,-12.2zM801.0,2950.2l12.2,12.2l-12.2,12.2l-12.2,-12.2zM809.4,2947.4l12.2,12.2l-12.2,12.2l-12.2,-12.2zM817.8,2947.0l12.2,12.2l-12.2,12.2l-12.2,-12.2zM826.2,2942.1l12.2,12.2l-12.2,12.2l-12.2,-12.2zM834.6,2940.4l12.2,12.2l-12.2,12.2l-12.2,-12.2zM843.0,2933.0l12.2,12.2l-12.2,12.2l-12.2,-12.2zM851.4,2928.4l12.2,12.2l-12.2,12.2l-12.2,-12.2zM859.8,2923.0l12.2,12.2l-12.2,12.2l-12.2,-12.2zM868.2,2918.9l12.2,12.2l-12.2,12.2l-12.2,-12.2zM876.6,2915.3l12.2,12.2l-12.2,12.2l-12.2,-12.2zM885.0,2907.2l12.2,12.2l-12.2,12.2l-12.2,-12.2zM893.4,2898.3l12.2,12.2l-12.2,12.2l-12.2,-12.2zM901.9,2889.6l12.2,12.2l-12.2,12.2l-12.2,-12.2zM910.3,2887.1l12.2,12.2l-12.2,12.2l-12.2,-12.2zM918.7,2878.8l12.2,12.2l-12.2,12.2l-12.2,-12.2zM927.1,2869.6l12.2,12.2l-12.2,12.2l-12.2,-12.2zM935.5,2862.7l12.2,12.2l-12.2,12.2l-12.2,-12.2zM943.9,2853.1l12.2,12.2l-12.2,12.2l-12.2,-12.2zM952.3,2843.4l12.2,12.2l-12.2,12.2l-12.2,-12.2zM960.7,2833.4l12.2,12.2l-12.2,12.2l-12.2,-12.2zM969.1,2829.3l12.2,12.2l-12.2,12.2l-12.2,-12.2zM977.5,2823.0l12.2,12.2l-12.2,12.2l-12.2,-12.2zM985.9,2816.9l12.2,12.2l-12.2,12.2l-12.2,-12.2zM994.3,2810.4l12.2,12.2l-12.2,12.2l-12.2,-12.2zM1002.7,2809.2l12.2,12.2l-12.2,12.2l-12.2,-12.2zM1011.1,2803.2l12.2,12.2l-12.2,12.2l-12.2,-12.2zM1019.5,2796.1l12.2,12.2l-12.2,12.2l-12.2,-12.2zM1027.9,2791.7l12.2,12.2l-12.2,12.2l-12.2,-12.2zM1036.4,2784.8l12.2,12.2l-12.2,12.2l-12.2,-12.2zM1044.8,2779.6l12.2,12.2l-12.2,12.2l-12.2,-12.2zM1053.2,2774.0l12.2,12.2l-12.2,12.2l-12.2,-12.2zM1061.6,2771.1l12.2,12.2l-12.2,12.2l-12.2,-12.2zM1070.0,2764.8l12.2,12.2l-12.2,12.2l-12.2,-12.2zM1078.4,2759.1l12.2,12.2l-12.2,12.2l-12.2,-12.2zM1086.8,2757.4l12.2,12.2l-12.2,12.2l-12.2,-12.2zM1095.2,2752.2l12.2,12.2l-12.2,12.2l-12.2,-12.2zM1103.6,2742.4l12.2,12.2l-12.2,12.2l-12.2,-12.2zM1112.0,2737.9l12.2,12.2l-12.2,12.2l-12.2,-12.2zM1120.4,2724.1l12.2,12.2l-12.2,12.2l-12.2,-12.2zM1128.8,2717.3l12.2,12.2l-12.2,12.2l-12.2,-12.2zM1137.2,2704.7l12.2,12.2l-12.2,12.2l-12.2,-12.2zM1145.6,2694.4l12.2,12.2l-12.2,12.2l-12.2,-12.2zM1154.0,2682.2l12.2,12.2l-12.2,12.2l-12.2,-12.2zM1162.5,2666.8l12.2,12.2l-12.2,12.2l-12.2,-12.2zM1170.9,2654.7l12.2,12.2l-12.2,12.2l-12.2,-12.2zM1179.3,2637.8l12.2,12.2l-12.2,12.2l-12.2,-12.2zM1187.7,2627.4l12.2,12.2l-12.2,12.2l-12.2,-12.2zM1196.1,2611.1l12.2,12.2l-12.2,12.2l-12.2,-12.2zM1204.5,2599.3l12.2,12.2l-12.2,12.2l-12.2,-12.2zM1212.9,2586.0l12.2,12.2l-12.2,12.2l-12.2,-12.2zM1221.3,2569.1l12.2,12.2l-12.2,12.2l-12.2,-12.2zM1229.7,2557.3l12.2,12.2l-12.2,12.2l-12.2,-12.2zM1238.1,2539.4l12.2,12.2l-12.2,12.2l-12.2,-12.2zM1246.5,2525.0l12.2,12.2l-12.2,12.2l-12.2,-12.2zM1254.9,2507.3l12.2,12.2l-12.2,12.2l-12.2,-12.2zM1263.3,2493.1l12.2,12.2l-12.2,12.2l-12.2,-12.2zM1271.7,2474.2l12.2,12.2l-12.2,12.2l-12.2,-12.2zM1280.1,2454.3l12.2,12.2l-12.2,12.2l-12.2,-12.2zM1288.5,2434.6l12.2,12.2l-12.2,12.2l-12.2,-12.2zM1297.0,2416.9l12.2,12.2l-12.2,12.2l-12.2,-12.2zM1305.4,2400.8l12.2,12.2l-12.2,12.2l-12.2,-12.2zM1313.8,2381.4l12.2,12.2l-12.2,12.2l-12.2,-12.2zM1322.2,2363.8l12.2,12.2l-12.2,12.2l-12.2,-12.2zM1330.6,2348.7l12.2,12.2l-12.2,12.2l-12.2,-12.2zM1339.0,2329.1l12.2,12.2l-12.2,12.2l-12.2,-12.2zM1347.4,2307.9l12.2,12.2l-12.2,12.2l-12.2,-12.2zM1355.8,2290.1l12.2,12.2l-12.2,12.2l-12.2,-12.2zM1364.2,2271.7l12.2,12.2l-12.2,12.2l-12.2,-12.2zM1372.6,2256.0l12.2,12.2l-12.2,12.2l-12.2,-12.2zM1381.0,2241.9l12.2,12.2l-12.2,12.2l-12.2,-12.2zM1389.4,2230.0l12.2,12.2l-12.2,12.2l-12.2,-12.2zM1397.8,2221.6l12.2,12.2l-12.2,12.2l-12.2,-12.2zM1406.2,2214.6l12.2,12.2l-12.2,12.2l-12.2,-12.2zM1414.6,2208.9l12.2,12.2l-12.2,12.2l-12.2,-12.2zM1423.1,2204.6l12.2,12.2l-12.2,12.2l-12.2,-12.2zM1431.5,2200.8l12.2,12.2l-12.2,12.2l-12.2,-12.2zM1439.9,2194.6l12.2,12.2l-12.2,12.2l-12.2,-12.2zM1448.3,2189.7l12.2,12.2l-12.2,12.2l-12.2,-12.2zM1456.7,2184.1l12.2,12.2l-12.2,12.2l-12.2,-12.2zM1465.1,2180.9l12.2,12.2l-12.2,12.2l-12.2,-12.2zM1473.5,2177.7l12.2,12.2l-12.2,12.2l-12.2,-12.2zM1481.9,2170.2l12.2,12.2l-12.2,12.2l-12.2,-12.2zM1490.3,2165.6l12.2,12.2l-12.2,12.2l-12.2,-12.2zM1498.7,2158.6l12.2,12.2l-12.2,12.2l-12.2,-12.2zM1507.1,2147.3l12.2,12.2l-12.2,12.2l-12.2,-12.2zM1515.5,2138.6l12.2,12.2l-12.2,12.2l-12.2,-12.2zM1523.9,2129.0l12.2,12.2l-12.2,12.2l-12.2,-12.2zM1532.3,2122.1l12.2,12.2l-12.2,12.2l-12.2,-12.2zM1540.7,2110.2l12.2,12.2l-12.2,12.2l-12.2,-12.2zM1549.1,2101.5l12.2,12.2l-12.2,12.2l-12.2,-12.2zM1557.6,2094.5l12.2,12.2l-12.2,12.2l-12.2,-12.2zM1566.0,2081.3l12.2,12.2l-12.2,12.2l-12.2,-12.2zM1574.4,2072.8l12.2,12.2l-12.2,12.2l-12.2,-12.2zM1582.8,2058.2l12.2,12.2l-12.2,12.2l-12.2,-12.2zM1591.2,2048.6l12.2,12.2l-12.2,12.2l-12.2,-12.2zM1599.6,2034.8l12.2,12.2l-12.2,12.2l-12.2,-12.2zM1608.0,2020.5l12.2,12.2l-12.2,12.2l-12.2,-12.2zM1616.4,2010.3l12.2,12.2l-12.2,12.2l-12.2,-12.2zM1624.8,1996.7l12.2,12.2l-12.2,12.2l-12.2,-12.2zM1633.2,1990.1l12.2,12.2l-12.2,12.2l-12.2,-12.2zM1641.6,1980.8l12.2,12.2l-12.2,12.2l-12.2,-12.2zM1650.0,1973.2l12.2,12.2l-12.2,12.2l-12.2,-12.2zM1658.4,1968.2l12.2,12.2l-12.2,12.2l-12.2,-12.2zM1666.8,1959.1l12.2,12.2l-12.2,12.2l-12.2,-12.2zM1675.2,1955.1l12.2,12.2l-12.2,12.2l-12.2,-12.2zM1683.7,1950.2l12.2,12.2l-12.2,12.2l-12.2,-12.2zM1692.1,1946.4l12.2,12.2l-12.2,12.2l-12.2,-12.2zM1700.5,1948.4l12.2,12.2l-12.2,12.2l-12.2,-12.2zM1708.9,1955.8l12.2,12.2l-12.2,12.2l-12.2,-12.2zM1717.3,1960.3l12.2,12.2l-12.2,12.2l-12.2,-12.2zM1725.7,1976.7l12.2,12.2l-12.2,12.2l-12.2,-12.2zM1734.1,1987.5l12.2,12.2l-12.2,12.2l-12.2,-12.2zM1742.5,2011.2l12.2,12.2l-12.2,12.2l-12.2,-12.2zM1750.9,2037.1l12.2,12.2l-12.2,12.2l-12.2,-12.2zM1759.3,2063.9l12.2,12.2l-12.2,12.2l-12.2,-12.2zM1767.7,2091.0l12.2,12.2l-12.2,12.2l-12.2,-12.2zM1776.1,2113.1l12.2,12.2l-12.2,12.2l-12.2,-12.2zM1784.5,2132.3l12.2,12.2l-12.2,12.2l-12.2,-12.2zM1792.9,2151.7l12.2,12.2l-12.2,12.2l-12.2,-12.2zM1801.3,2168.1l12.2,12.2l-12.2,12.2l-12.2,-12.2zM1809.7,2186.8l12.2,12.2l-12.2,12.2l-12.2,-12.2zM1818.2,2203.5l12.2,12.2l-12.2,12.2l-12.2,-12.2zM1826.6,2217.7l12.2,12.2l-12.2,12.2l-12.2,-12.2zM1835.0,2237.9l12.2,12.2l-12.2,12.2l-12.2,-12.2zM1843.4,2254.2l12.2,12.2l-12.2,12.2l-12.2,-12.2zM1851.8,2270.7l12.2,12.2l-12.2,12.2l-12.2,-12.2zM1860.2,2286.7l12.2,12.2l-12.2,12.2l-12.2,-12.2zM1868.6,2298.4l12.2,12.2l-12.2,12.2l-12.2,-12.2zM1877.0,2304.2l12.2,12.2l-12.2,12.2l-12.2,-12.2z" stroke-width="6.0" stroke-linejoin="bevel"/></g>
<g fill="none" stroke="#808080"><path d="M574.0,3000.0L582.4,3002.5L590.8,3004.2L599.2,3004.5L607.6,3004.4L616.0,3004.1L624.4,3003.2L632.8,3001.1L641.3,2997.8L649.7,2994.4L658.1,2990.4L666.5,2988.9L674.9,2986.5L683.3,2979.2L691.7,2977.0L700.1,2969.2L708.5,2966.0L716.9,2961.2L725.3,2961.5L733.7,2956.8L742.1,2954.3L750.5,2949.6L758.9,2942.8L767.3,2940.5L775.8,2937.9L784.2,2933.2L792.6,2935.5L801.0,2931.8L809.4,2930.7L817.8,2932.5L826.2,2927.1L834.6,2929.8L843.0,2927.5L851.4,2929.3L859.8,2930.0L868.2,2932.1L876.6,2931.0L885.0,2929.7L893.4,2932.7L901.9,2928.6L910.3,2930.3L918.7,2925.8L927.1,2927.9L935.5,2925.7L943.9,2923.2L952.3,2921.5L960.7,2918.7L969.1,2917.1L977.5,2911.0L985.9,2909.4L994.3,2908.3L1002.7,2904.0L1011.1,2907.7L1019.5,2908.1L1027.9,2907.0L1036.4,2908.8L1044.8,2911.7L1053.2,2913.3L1061.6,2917.3L1070.0,2914.3L1078.4,2912.2L1086.8,2911.8L1095.2,2913.8L1103.6,2914.0L1112.0,2910.1L1120.4,2908.5L1128.8,2907.5L1137.2,2908.6L1145.6,2909.0L1154.0,2914.9L1162.5,2917.8L1170.9,2920.5L1179.3,2920.4L1187.7,2922.1L1196.1,2923.0L1204.5,2924.5L1212.9,2920.0L1221.3,2920.2L1229.7,2918.5L1238.1,2917.7L1246.5,2918.0L1254.9,2922.3L1263.3,2922.7L1271.7,2921.2L1280.1,2923.1L1288.5,2923.4L1297.0,2924.8L1305.4,2925.5L1313.8,2922.8L1322.2,2925.4L1330.6,2925.2L1339.0,2924.9L1347.4,2925.2L1355.8,2921.7L1364.2,2920.1L1372.6,2918.6L1381.0,2919.9L1389.4,2913.3L1397.8,2909.7L1406.2,2910.4L1414.6,2907.1L1423.1,2902.9L1431.5,2902.2L1439.9,2895.6L1448.3,2894.2L1456.7,2892.6L1465.1,2891.8L1473.5,2888.9L1481.9,2886.5L1490.3,2885.7L1498.7,2886.0L1507.1,2883.6L1515.5,2879.5L1523.9,2875.6L1532.3,2872.3L1540.7,2873.6L1549.1,2868.2L1557.6,2863.2L1566.0,2853.0L1574.4,2847.4L1582.8,2843.7L1591.2,2837.1L1599.6,2831.3L1608.0,2823.2L1616.4,2815.2L1624.8,2808.8L1633.2,2802.0L1641.6,2789.9L1650.0,2781.6L1658.4,2770.5L1666.8,2762.5L1675.2,2748.4L1683.7,2740.8L1692.1,2728.2L1700.5,2708.4L1708.9,2693.8L1717.3,2673.7L1725.7,2653.8L1734.1,2634.1L1742.5,2615.9L1750.9,2600.3L1759.3,2586.4L1767.7,2569.4L1776.1,2549.4L1784.5,2534.2L1792.9,2520.0L1801.3,2505.9L1809.7,2495.2L1818.2,2481.9L1826.6,2474.8L1835.0,2464.9L1843.4,2455.1L1851.8,2451.3L1860.2,2445.7L1868.6,2443.1L1877.0,2439.4" stroke-width="9.0" stroke-linejoin="round" stroke-linecap="round"/><path d="M574.0,2987.8l12.2,12.2l-12.2,12.2l-12.2,-12.2zM582.4,2990.3l12.2,12.2l-12.2,12.2l-12.2,-12.2zM590.8,2992.0l12.2,12.2l-12.2,12.2l-12.2,-12.2zM599.2,2992.3l12.2,12.2l-12.2,12.2l-12.2,-12.2zM607.6,2992.2l12.2,12.2l-12.2,12.2l-12.2,-12.2zM616.0,2991.9l12.2,12.2l-12.2,12.2l-12.2,-12.2zM624.4,2991.0l12.2,12.2l-12.2,12.2l-12.2,-12.2zM632.8,2988.9l12.2,12.2l-12.2,12.2l-12.2,-12.2zM641.3,2985.6l12.2,12.2l-12.2,12.2l-12.2,-12.2zM649.7,2982.2l12.2,12.2l-12.2,12.2l-12.2,-12.2zM658.1,2978.2l12.2,12.2l-12.2,12.2l-12.2,-12.2zM666.5,2976.7l12.2,12.2l-12.2,12.2l-12.2,-12.2zM674.9,2974.3l12.2,12.2l-12.2,12.2l-12.2,-12.2zM683.3,2967.0l12.2,12.2l-12.2,12.2l-12.2,-12.2zM691.7,2964.8l12.2,12.2l-12.2,12.2l-12.2,-12.2zM700.1,2957.0l12.2,12.2l-12.2,12.2l-12.2,-12.2zM708.5,2953.8l12.2,12.2l-12.2,12.2l-12.2,-12.2zM716.9,2949.0l12.2,12.2l-12.2,12.2l-12.2,-12.2zM725.3,2949.3l12.2,12.2l-12.2,12.2l-12.2,-12.2zM733.7,2944.6l12.2,12.2l-12.2,12.2l-12.2,-12.2zM742.1,2942.1l12.2,12.2l-12.2,12.2l-12.2,-12.2zM750.5,2937.4l12.2,12.2l-12.2,12.2l-12.2,-12.2zM758.9,2930.6l12.2,12.2l-12.2,12.2l-12.2,-12.2zM767.3,2928.3l12.2,12.2l-12.2,12.2l-12.2,-12.2zM775.8,2925.7l12.2,12.2l-12.2,12.2l-12.2,-12.2zM784.2,2921.0l12.2,12.2l-12.2,12.2l-12.2,-12.2zM792.6,2923.3l12.2,12.2l-12.2,12.2l-12.2,-12.2zM801.0,2919.6l12.2,12.2l-12.2,12.2l-12.2,-12.2zM809.4,2918.5l12.2,12.2l-12.2,12.2l-12.2,-12.2zM817.8,2920.3l12.2,12.2l-12.2,12.2l-12.2,-12.2zM826.2,2914.9l12.2,12.2l-12.2,12.2l-12.2,-12.2zM834.6,2917.6l12.2,12.2l-12.2,12.2l-12.2,-12.2zM843.0,2915.3l12.2,12.2l-12.2,12.2l-12.2,-12.2zM851.4,2917.1l12.2,12.2l-12.2,12.2l-12.2,-12.2zM859.8,2917.8l12.2,12.2l-12.2,12.2l-12.2,-12.2zM868.2,2919.9l12.2,12.2l-12.2,12.2l-12.2,-12.2zM876.6,2918.8l12.2,12.2l-12.2,12.2l-12.2,-12.2zM885.0,2917.5l12.2,12.2l-12.2,12.2l-12.2,-12.2zM893.4,2920.5l12.2,12.2l-12.2,12.2l-12.2,-12.2zM901.9,2916.4l12.2,12.2l-12.2,12.2l-12.2,-12.2zM910.3,2918.1l12.2,12.2l-12.2,12.2l-12.2,-12.2zM918.7,2913.6l12.2,12.2l-12.2,12.2l-12.2,-12.2zM927.1,2915.7l12.2,12.2l-12.2,12.2l-12.2,-12.2zM935.5,2913.5l12.2,12.2l-12.2,12.2l-12.2,-12.2zM943.9,2911.0l12.2,12.2l-12.2,12.2l-12.2,-12.2zM952.3,2909.3l12.2,12.2l-12.2,12.2l-12.2,-12.2zM960.7,2906.5l12.2,12.2l-12.2,12.2l-12.2,-12.2zM969.1,2904.9l12.2,12.2l-12.2,12.2l-12.2,-12.2zM977.5,2898.8l12.2,12.2l-12.2,12.2l-12.2,-12.2zM985.9,2897.2l12.2,12.2l-12.2,12.2l-12.2,-12.2zM994.3,2896.1l12.2,12.2l-12.2,12.2l-12.2,-12.2zM1002.7,2891.8l12.2,12.2l-12.2,12.2l-12.2,-12.2zM1011.1,2895.5l12.2,12.2l-12.2,12.2l-12.2,-12.2zM1019.5,2895.9l12.2,12.2l-12.2,12.2l-12.2,-12.2zM1027.9,2894.8l12.2,12.2l-12.2,12.2l-12.2,-12.2zM1036.4,2896.6l12.2,12.2l-12.2,12.2l-12.2,-12.2zM1044.8,2899.5l12.2,12.2l-12.2,12.2l-12.2,-12.2zM1053.2,2901.1l12.2,12.2l-12.2,12.2l-12.2,-12.2zM1061.6,2905.1l12.2,12.2l-12.2,12.2l-12.2,-12.2zM1070.0,2902.1l12.2,12.2l-12.2,12.2l-12.2,-12.2zM1078.4,2900.0l12.2,12.2l-12.2,12.2l-12.2,-12.2zM1086.8,2899.6l12.2,12.2l-12.2,12.2l-12.2,-12.2zM1095.2,2901.6l12.2,12.2l-12.2,12.2l-12.2,-12.2zM1103.6,2901.8l12.2,12.2l-12.2,12.2l-12.2,-12.2zM1112.0,2897.9l12.2,12.2l-12.2,12.2l-12.2,-12.2zM1120.4,2896.3l12.2,12.2l-12.2,12.2l-12.2,-12.2zM1128.8,2895.3l12.2,12.2l-12.2,12.2l-12.2,-12.2zM1137.2,2896.4l12.2,12.2l-12.2,12.2l-12.2,-12.2zM1145.6,2896.8l12.2,12.2l-12.2,12.2l-12.2,-12.2zM1154.0,2902.7l12.2,12.2l-12.2,12.2l-12.2,-12.2zM1162.5,2905.6l12.2,12.2l-12.2,12.2l-12.2,-12.2zM1170.9,2908.3l12.2,12.2l-12.2,12.2l-12.2,-12.2zM1179.3,2908.2l12.2,12.2l-12.2,12.2l-12.2,-12.2zM1187.7,2909.9l12.2,12.2l-12.2,12.2l-12.2,-12.2zM1196.1,2910.8l12.2,12.2l-12.2,12.2l-12.2,-12.2zM1204.5,2912.3l12.2,12.2l-12.2,12.2l-12.2,-12.2zM1212.9,2907.8l12.2,12.2l-12.2,12.2l-12.2,-12.2zM1221.3,2908.0l12.2,12.2l-12.2,12.2l-12.2,-12.2zM1229.7,2906.3l12.2,12.2l-12.2,12.2l-12.2,-12.2zM1238.1,2905.5l12.2,12.2l-12.2,12.2l-12.2,-12.2zM1246.5,2905.8l12.2,12.2l-12.2,12.2l-12.2,-12.2zM1254.9,2910.1l12.2,12.2l-12.2,12.2l-12.2,-12.2zM1263.3,2910.5l12.2,12.2l-12.2,12.2l-12.2,-12.2zM1271.7,2909.0l12.2,12.2l-12.2,12.2l-12.2,-12.2zM1280.1,2910.9l12.2,12.2l-12.2,12.2l-12.2,-12.2zM1288.5,2911.2l12.2,12.2l-12.2,12.2l-12.2,-12.2zM1297.0,2912.6l12.2,12.2l-12.2,12.2l-12.2,-12.2zM1305.4,2913.3l12.2,12.2l-12.2,12.2l-12.2,-12.2zM1313.8,2910.6l12.2,12.2l-12.2,12.2l-12.2,-12.2zM1322.2,2913.2l12.2,12.2l-12.2,12.2l-12.2,-12.2zM1330.6,2913.0l12.2,12.2l-12.2,12.2l-12.2,-12.2zM1339.0,2912.7l12.2,12.2l-12.2,12.2l-12.2,-12.2zM1347.4,2913.0l12.2,12.2l-12.2,12.2l-12.2,-12.2zM1355.8,2909.5l12.2,12.2l-12.2,12.2l-12.2,-12.2zM1364.2,2907.9l12.2,12.2l-12.2,12.2l-12.2,-12.2zM1372.6,2906.4l12.2,12.2l-12.2,12.2l-12.2,-12.2zM1381.0,2907.7l12.2,12.2l-12.2,12.2l-12.2,-12.2zM1389.4,2901.1l12.2,12.2l-12.2,12.2l-12.2,-12.2zM1397.8,2897.5l12.2,12.2l-12.2,12.2l-12.2,-12.2zM1406.2,2898.2l12.2,12.2l-12.2,12.2l-12.2,-12.2zM1414.6,2894.9l12.2,12.2l-12.2,12.2l-12.2,-12.2zM1423.1,2890.7l12.2,12.2l-12.2,12.2l-12.2,-12.2zM1431.5,2890.0l12.2,12.2l-12.2,12.2l-12.2,-12.2zM1439.9,2883.4l12.2,12.2l-12.2,12.2l-12.2,-12.2zM1448.3,2882.0l12.2,12.2l-12.2,12.2l-12.2,-12.2zM1456.7,2880.4l12.2,12.2l-12.2,12.2l-12.2,-12.2zM1465.1,2879.6l12.2,12.2l-12.2,12.2l-12.2,-12.2zM1473.5,2876.7l12.2,12.2l-12.2,12.2l-12.2,-12.2zM1481.9,2874.3l12.2,12.2l-12.2,12.2l-12.2,-12.2zM1490.3,2873.5l12.2,12.2l-12.2,12.2l-12.2,-12.2zM1498.7,2873.8l12.2,12.2l-12.2,12.2l-12.2,-12.2zM1507.1,2871.4l12.2,12.2l-12.2,12.2l-12.2,-12.2zM1515.5,2867.3l12.2,12.2l-12.2,12.2l-12.2,-12.2zM1523.9,2863.4l12.2,12.2l-12.2,12.2l-12.2,-12.2zM1532.3,2860.1l12.2,12.2l-12.2,12.2l-12.2,-12.2zM1540.7,2861.4l12.2,12.2l-12.2,12.2l-12.2,-12.2zM1549.1,2856.0l12.2,12.2l-12.2,12.2l-12.2,-12.2zM1557.6,2851.0l12.2,12.2l-12.2,12.2l-12.2,-12.2zM1566.0,2840.8l12.2,12.2l-12.2,12.2l-12.2,-12.2zM1574.4,2835.2l12.2,12.2l-12.2,12.2l-12.2,-12.2zM1582.8,2831.5l12.2,12.2l-12.2,12.2l-12.2,-12.2zM1591.2,2824.9l12.2,12.2l-12.2,12.2l-12.2,-12.2zM1599.6,2819.1l12.2,12.2l-12.2,12.2l-12.2,-12.2zM1608.0,2811.0l12.2,12.2l-12.2,12.2l-12.2,-12.2zM1616.4,2803.0l12.2,12.2l-12.2,12.2l-12.2,-12.2zM1624.8,2796.6l12.2,12.2l-12.2,12.2l-12.2,-12.2zM1633.2,2789.8l12.2,12.2l-12.2,12.2l-12.2,-12.2zM1641.6,2777.7l12.2,12.2l-12.2,12.2l-12.2,-12.2zM1650.0,2769.4l12.2,12.2l-12.2,12.2l-12.2,-12.2zM1658.4,2758.3l12.2,12.2l-12.2,12.2l-12.2,-12.2zM1666.8,2750.3l12.2,12.2l-12.2,12.2l-12.2,-12.2zM1675.2,2736.2l12.2,12.2l-12.2,12.2l-12.2,-12.2zM1683.7,2728.6l12.2,12.2l-12.2,12.2l-12.2,-12.2zM1692.1,2716.0l12.2,12.2l-12.2,12.2l-12.2,-12.2zM1700.5,2696.2l12.2,12.2l-12.2,12.2l-12.2,-12.2zM1708.9,2681.6l12.2,12.2l-12.2,12.2l-12.2,-12.2zM1717.3,2661.5l12.2,12.2l-12.2,12.2l-12.2,-12.2zM1725.7,2641.6l12.2,12.2l-12.2,12.2l-12.2,-12.2zM1734.1,2621.9l12.2,12.2l-12.2,12.2l-12.2,-12.2zM1742.5,2603.7l12.2,12.2l-12.2,12.2l-12.2,-12.2zM1750.9,2588.1l12.2,12.2l-12.2,12.2l-12.2,-12.2zM1759.3,2574.2l12.2,12.2l-12.2,12.2l-12.2,-12.2zM1767.7,2557.2l12.2,12.2l-12.2,12.2l-12.2,-12.2zM1776.1,2537.2l12.2,12.2l-12.2,12.2l-12.2,-12.2zM1784.5,2522.0l12.2,12.2l-12.2,12.2l-12.2,-12.2zM1792.9,2507.8l12.2,12.2l-12.2,12.2l-12.2,-12.2zM1801.3,2493.7l12.2,12.2l-12.2,12.2l-12.2,-12.2zM1809.7,2483.0l12.2,12.2l-12.2,12.2l-12.2,-12.2zM1818.2,2469.7l12.2,12.2l-12.2,12.2l-12.2,-12.2zM1826.6,2462.6l12.2,12.2l-12.2,12.2l-12.2,-12.2zM1835.0,2452.7l12.2,12.2l-12.2,12.2l-12.2,-12.2zM1843.4,2442.9l12.2,12.2l-12.2,12.2l-12.2,-12.2zM1851.8,2439.1l12.2,12.2l-12.2,12.2l-12.2,-12.2zM1860.2,2433.5l12.2,12.2l-12.2,12.2l-12.2,-12.2zM1868.6,2430.9l12.2,12.2l-12.2,12.2l-12.2,-12.2zM1877.0,2427.2l12.2,12.2l-12.2,12.2l-12.2,-12.2z" stroke-width="6.0" stroke-linejoin="bevel"/></g>
<g fill="none" stroke="#0070C0"><path d="M574.0,3015.0L582.4,3015.3L590.8,3015.7L599.1,3016.0L607.5,3016.3L615.9,3016.3L624.3,3016.1L632.7,3015.8L641.1,3015.1L649.4,3011.9L657.8,3013.0L666.2,3006.0L674.6,3003.2L683.0,3000.6L691.3,2995.4L699.7,2993.5L708.1,2990.1L716.5,2983.8L724.9,2984.6L733.2,2980.5L741.6,2976.4L750.0,2972.2L758.4,2971.2L766.8,2965.4L775.2,2962.9L783.5,2958.2L791.9,2955.3L800.3,2950.2L808.7,2948.6L817.1,2946.3L825.4,2942.5L833.8,2942.7L842.2,2935.3L850.6,2933.9L859.0,2931.8L867.4,2927.6L875.7,2921.3L884.1,2918.9L892.5,2913.1L900.9,2907.9L909.3,2904.1L917.6,2902.9L926.0,2896.1L934.4,2895.9L942.8,2888.8L951.2,2883.6L959.6,2877.8L967.9,2874.3L976.3,2871.7L984.7,2865.2L993.1,2862.1L1001.5,2859.8L1009.8,2855.9L1018.2,2855.7L1026.6,2854.6L1035.0,2853.0L1043.4,2852.6L1051.8,2849.9L1060.1,2845.2L1068.5,2846.5L1076.9,2839.6L1085.3,2835.4L1093.7,2829.6L1102.0,2826.6L1110.4,2821.4L1118.8,2813.7L1127.2,2808.3L1135.6,2802.8L1143.9,2802.6L1152.3,2794.2L1160.7,2790.5L1169.1,2782.5L1177.5,2773.8L1185.9,2764.4L1194.2,2754.1L1202.6,2744.2L1211.0,2737.2L1219.4,2729.2L1227.8,2719.5L1236.1,2707.7L1244.5,2699.1L1252.9,2683.1L1261.3,2670.6L1269.7,2657.8L1278.1,2644.8L1286.4,2629.0L1294.8,2617.4L1303.2,2604.2L1311.6,2587.9L1320.0,2571.4L1328.3,2556.0L1336.7,2535.9L1345.1,2514.5L1353.5,2496.1L1361.9,2476.1L1370.2,2455.3L1378.6,2438.4L1387.0,2420.6L1395.4,2401.9L1403.8,2385.6L1412.2,2361.9L1420.5,2344.3L1428.9,2324.4L1437.3,2302.2L1445.7,2281.2L1454.1,2265.6L1462.4,2247.9L1470.8,2231.4L1479.2,2216.0L1487.6,2207.1L1496.0,2190.4L1504.4,2175.0L1512.7,2160.6L1521.1,2147.1L1529.5,2138.1L1537.9,2123.7L1546.3,2114.9L1554.6,2107.1L1563.0,2103.7L1571.4,2098.6L1579.8,2096.8L1588.2,2096.2L1596.6,2094.6L1604.9,2092.1L1613.3,2086.3L1621.7,2085.4L1630.1,2084.0L1638.5,2075.9L1646.8,2073.0L1655.2,2071.5L1663.6,2068.6L1672.0,2067.6L1680.4,2063.8L1688.8,2057.9L1697.1,2051.8L1705.5,2046.5L1713.9,2041.3L1722.3,2034.3L1730.7,2031.1L1739.0,2022.9L1747.4,2021.8L1755.8,2016.3L1764.2,2008.7L1772.6,2005.8L1780.9,2001.2L1789.3,1993.4L1797.7,1990.7L1806.1,1983.6L1814.5,1982.6L1822.9,1974.7L1831.2,1974.9L1839.6,1974.9L1848.0,1973.7" stroke-width="9.0" stroke-linejoin="round" stroke-linecap="round"/><path d="M641.1,3002.9l12.2,12.2l-12.2,12.2l-12.2,-12.2zM649.4,2999.7l12.2,12.2l-12.2,12.2l-12.2,-12.2zM657.8,3000.8l12.2,12.2l-12.2,12.2l-12.2,-12.2zM666.2,2993.8l12.2,12.2l-12.2,12.2l-12.2,-12.2zM674.6,2991.0l12.2,12.2l-12.2,12.2l-12.2,-12.2zM683.0,2988.4l12.2,12.2l-12.2,12.2l-12.2,-12.2zM691.3,2983.2l12.2,12.2l-12.2,12.2l-12.2,-12.2zM699.7,2981.3l12.2,12.2l-12.2,12.2l-12.2,-12.2zM708.1,2977.9l12.2,12.2l-12.2,12.2l-12.2,-12.2zM716.5,2971.6l12.2,12.2l-12.2,12.2l-12.2,-12.2zM724.9,2972.4l12.2,12.2l-12.2,12.2l-12.2,-12.2zM733.2,2968.3l12.2,12.2l-12.2,12.2l-12.2,-12.2zM741.6,2964.2l12.2,12.2l-12.2,12.2l-12.2,-12.2zM750.0,2960.0l12.2,12.2l-12.2,12.2l-12.2,-12.2zM758.4,2959.0l12.2,12.2l-12.2,12.2l-12.2,-12.2zM766.8,2953.2l12.2,12.2l-12.2,12.2l-12.2,-12.2zM775.2,2950.7l12.2,12.2l-12.2,12.2l-12.2,-12.2zM783.5,2946.0l12.2,12.2l-12.2,12.2l-12.2,-12.2zM791.9,2943.1l12.2,12.2l-12.2,12.2l-12.2,-12.2zM800.3,2938.0l12.2,12.2l-12.2,12.2l-12.2,-12.2zM808.7,2936.4l12.2,12.2l-12.2,12.2l-12.2,-12.2zM817.1,2934.1l12.2,12.2l-12.2,12.2l-12.2,-12.2zM825.4,2930.3l12.2,12.2l-12.2,12.2l-12.2,-12.2zM833.8,2930.5l12.2,12.2l-12.2,12.2l-12.2,-12.2zM842.2,2923.1l12.2,12.2l-12.2,12.2l-12.2,-12.2zM850.6,2921.7l12.2,12.2l-12.2,12.2l-12.2,-12.2zM859.0,2919.6l12.2,12.2l-12.2,12.2l-12.2,-12.2zM867.4,2915.4l12.2,12.2l-12.2,12.2l-12.2,-12.2zM875.7,2909.1l12.2,12.2l-12.2,12.2l-12.2,-12.2zM884.1,2906.7l12.2,12.2l-12.2,12.2l-12.2,-12.2zM892.5,2900.9l12.2,12.2l-12.2,12.2l-12.2,-12.2zM900.9,2895.7l12.2,12.2l-12.2,12.2l-12.2,-12.2zM909.3,2891.9l12.2,12.2l-12.2,12.2l-12.2,-12.2zM917.6,2890.7l12.2,12.2l-12.2,12.2l-12.2,-12.2zM926.0,2883.9l12.2,12.2l-12.2,12.2l-12.2,-12.2zM934.4,2883.7l12.2,12.2l-12.2,12.2l-12.2,-12.2zM942.8,2876.6l12.2,12.2l-12.2,12.2l-12.2,-12.2zM951.2,2871.4l12.2,12.2l-12.2,12.2l-12.2,-12.2zM959.6,2865.6l12.2,12.2l-12.2,12.2l-12.2,-12.2zM967.9,2862.1l12.2,12.2l-12.2,12.2l-12.2,-12.2zM976.3,2859.5l12.2,12.2l-12.2,12.2l-12.2,-12.2zM984.7,2853.0l12.2,12.2l-12.2,12.2l-12.2,-12.2zM993.1,2849.9l12.2,12.2l-12.2,12.2l-12.2,-12.2zM1001.5,2847.6l12.2,12.2l-12.2,12.2l-12.2,-12.2zM1009.8,2843.7l12.2,12.2l-12.2,12.2l-12.2,-12.2zM1018.2,2843.5l12.2,12.2l-12.2,12.2l-12.2,-12.2zM1026.6,2842.4l12.2,12.2l-12.2,12.2l-12.2,-12.2zM1035.0,2840.8l12.2,12.2l-12.2,12.2l-12.2,-12.2zM1043.4,2840.4l12.2,12.2l-12.2,12.2l-12.2,-12.2zM1051.8,2837.7l12.2,12.2l-12.2,12.2l-12.2,-12.2zM1060.1,2833.0l12.2,12.2l-12.2,12.2l-12.2,-12.2zM1068.5,2834.3l12.2,12.2l-12.2,12.2l-12.2,-12.2zM1076.9,2827.4l12.2,12.2l-12.2,12.2l-12.2,-12.2zM1085.3,2823.2l12.2,12.2l-12.2,12.2l-12.2,-12.2zM1093.7,2817.4l12.2,12.2l-12.2,12.2l-12.2,-12.2zM1102.0,2814.4l12.2,12.2l-12.2,12.2l-12.2,-12.2zM1110.4,2809.2l12.2,12.2l-12.2,12.2l-12.2,-12.2zM1118.8,2801.5l12.2,12.2l-12.2,12.2l-12.2,-12.2zM1127.2,2796.1l12.2,12.2l-12.2,12.2l-12.2,-12.2zM1135.6,2790.6l12.2,12.2l-12.2,12.2l-12.2,-12.2zM1143.9,2790.4l12.2,12.2l-12.2,12.2l-12.2,-12.2zM1152.3,2782.0l12.2,12.2l-12.2,12.2l-12.2,-12.2zM1160.7,2778.3l12.2,12.2l-12.2,12.2l-12.2,-12.2zM1169.1,2770.3l12.2,12.2l-12.2,12.2l-12.2,-12.2zM1177.5,2761.6l12.2,12.2l-12.2,12.2l-12.2,-12.2zM1185.9,2752.2l12.2,12.2l-12.2,12.2l-12.2,-12.2zM1194.2,2741.9l12.2,12.2l-12.2,12.2l-12.2,-12.2zM1202.6,2732.0l12.2,12.2l-12.2,12.2l-12.2,-12.2zM1211.0,2725.0l12.2,12.2l-12.2,12.2l-12.2,-12.2zM1219.4,2717.0l12.2,12.2l-12.2,12.2l-12.2,-12.2zM1227.8,2707.3l12.2,12.2l-12.2,12.2l-12.2,-12.2zM1236.1,2695.5l12.2,12.2l-12.2,12.2l-12.2,-12.2zM1244.5,2686.9l12.2,12.2l-12.2,12.2l-12.2,-12.2zM1252.9,2670.9l12.2,12.2l-12.2,12.2l-12.2,-12.2zM1261.3,2658.4l12.2,12.2l-12.2,12.2l-12.2,-12.2zM1269.7,2645.6l12.2,12.2l-12.2,12.2l-12.2,-12.2zM1278.1,2632.6l12.2,12.2l-12.2,12.2l-12.2,-12.2zM1286.4,2616.8l12.2,12.2l-12.2,12.2l-12.2,-12.2zM1294.8,2605.2l12.2,12.2l-12.2,12.2l-12.2,-12.2zM1303.2,2592.0l12.2,12.2l-12.2,12.2l-12.2,-12.2zM1311.6,2575.7l12.2,12.2l-12.2,12.2l-12.2,-12.2zM1320.0,2559.2l12.2,12.2l-12.2,12.2l-12.2,-12.2zM1328.3,2543.8l12.2,12.2l-12.2,12.2l-12.2,-12.2zM1336.7,2523.7l12.2,12.2l-12.2,12.2l-12.2,-12.2zM1345.1,2502.3l12.2,12.2l-12.2,12.2l-12.2,-12.2zM1353.5,2483.9l12.2,12.2l-12.2,12.2l-12.2,-12.2zM1361.9,2463.9l12.2,12.2l-12.2,12.2l-12.2,-12.2zM1370.2,2443.1l12.2,12.2l-12.2,12.2l-12.2,-12.2zM1378.6,2426.2l12.2,12.2l-12.2,12.2l-12.2,-12.2zM1387.0,2408.4l12.2,12.2l-12.2,12.2l-12.2,-12.2zM1395.4,2389.7l12.2,12.2l-12.2,12.2l-12.2,-12.2zM1403.8,2373.4l12.2,12.2l-12.2,12.2l-12.2,-12.2zM1412.2,2349.7l12.2,12.2l-12.2,12.2l-12.2,-12.2zM1420.5,2332.1l12.2,12.2l-12.2,12.2l-12.2,-12.2zM1428.9,2312.2l12.2,12.2l-12.2,12.2l-12.2,-12.2zM1437.3,2290.0l12.2,12.2l-12.2,12.2l-12.2,-12.2zM1445.7,2269.0l12.2,12.2l-12.2,12.2l-12.2,-12.2zM1454.1,2253.4l12.2,12.2l-12.2,12.2l-12.2,-12.2zM1462.4,2235.7l12.2,12.2l-12.2,12.2l-12.2,-12.2zM1470.8,2219.2l12.2,12.2l-12.2,12.2l-12.2,-12.2zM1479.2,2203.8l12.2,12.2l-12.2,12.2l-12.2,-12.2zM1487.6,2194.9l12.2,12.2l-12.2,12.2l-12.2,-12.2zM1496.0,2178.2l12.2,12.2l-12.2,12.2l-12.2,-12.2zM1504.4,2162.8l12.2,12.2l-12.2,12.2l-12.2,-12.2zM1512.7,2148.4l12.2,12.2l-12.2,12.2l-12.2,-12.2zM1521.1,2134.9l12.2,12.2l-12.2,12.2l-12.2,-12.2zM1529.5,2125.9l12.2,12.2l-12.2,12.2l-12.2,-12.2zM1537.9,2111.5l12.2,12.2l-12.2,12.2l-12.2,-12.2zM1546.3,2102.7l12.2,12.2l-12.2,12.2l-12.2,-12.2zM1554.6,2094.9l12.2,12.2l-12.2,12.2l-12.2,-12.2zM1563.0,2091.5l12.2,12.2l-12.2,12.2l-12.2,-12.2zM1571.4,2086.4l12.2,12.2l-12.2,12.2l-12.2,-12.2zM1579.8,2084.6l12.2,12.2l-12.2,12.2l-12.2,-12.2zM1588.2,2084.0l12.2,12.2l-12.2,12.2l-12.2,-12.2zM1596.6,2082.4l12.2,12.2l-12.2,12.2l-12.2,-12.2zM1604.9,2079.9l12.2,12.2l-12.2,12.2l-12.2,-12.2zM1613.3,2074.1l12.2,12.2l-12.2,12.2l-12.2,-12.2zM1621.7,2073.2l12.2,12.2l-12.2,12.2l-12.2,-12.2zM1630.1,2071.8l12.2,12.2l-12.2,12.2l-12.2,-12.2zM1638.5,2063.7l12.2,12.2l-12.2,12.2l-12.2,-12.2zM1646.8,2060.8l12.2,12.2l-12.2,12.2l-12.2,-12.2zM1655.2,2059.3l12.2,12.2l-12.2,12.2l-12.2,-12.2zM1663.6,2056.4l12.2,12.2l-12.2,12.2l-12.2,-12.2zM1672.0,2055.4l12.2,12.2l-12.2,12.2l-12.2,-12.2zM1680.4,2051.6l12.2,12.2l-12.2,12.2l-12.2,-12.2zM1688.8,2045.7l12.2,12.2l-12.2,12.2l-12.2,-12.2zM1697.1,2039.6l12.2,12.2l-12.2,12.2l-12.2,-12.2zM1705.5,2034.3l12.2,12.2l-12.2,12.2l-12.2,-12.2zM1713.9,2029.1l12.2,12.2l-12.2,12.2l-12.2,-12.2zM1722.3,2022.1l12.2,12.2l-12.2,12.2l-12.2,-12.2zM1730.7,2018.9l12.2,12.2l-12.2,12.2l-12.2,-12.2zM1739.0,2010.7l12.2,12.2l-12.2,12.2l-12.2,-12.2zM1747.4,2009.6l12.2,12.2l-12.2,12.2l-12.2,-12.2zM1755.8,2004.1l12.2,12.2l-12.2,12.2l-12.2,-12.2zM1764.2,1996.5l12.2,12.2l-12.2,12.2l-12.2,-12.2zM1772.6,1993.6l12.2,12.2l-12.2,12.2l-12.2,-12.2zM1780.9,1989.0l12.2,12.2l-12.2,12.2l-12.2,-12.2zM1789.3,1981.2l12.2,12.2l-12.2,12.2l-12.2,-12.2zM1797.7,1978.5l12.2,12.2l-12.2,12.2l-12.2,-12.2zM1806.1,1971.4l12.2,12.2l-12.2,12.2l-12.2,-12.2zM1814.5,1970.4l12.2,12.2l-12.2,12.2l-12.2,-12.2zM1822.9,1962.5l12.2,12.2l-12.2,12.2l-12.2,-12.2zM1831.2,1962.7l12.2,12.2l-12.2,12.2l-12.2,-12.2zM1839.6,1962.7l12.2,12.2l-12.2,12.2l-12.2,-12.2zM1848.0,1961.5l12.2,12.2l-12.2,12.2l-12.2,-12.2z" stroke-width="6.0" stroke-linejoin="bevel"/></g>
<g clip-path="url(#clipb)" fill="none" stroke="#FF6A00"><path d="M560.0,3014.3L574.0,3014.3L582.4,3015.0L590.8,3014.7L599.1,3014.4L607.5,3014.6L615.9,3014.7L624.3,3014.6L632.7,3014.6L641.1,3015.4L649.4,3016.7L657.8,3017.0L666.2,3016.3L674.6,3014.4L683.0,3011.9L691.3,3009.5L699.7,3009.7L708.1,3005.6L716.5,3003.6L724.9,3000.3L733.2,2997.5L741.6,2999.2L750.0,2995.7L758.4,2993.3L766.8,2990.4L775.2,2990.2L783.5,2985.5L791.9,2985.9L800.3,2982.6L808.7,2982.5L817.1,2982.4L825.4,2980.5L833.8,2979.2L842.2,2981.1L850.6,2981.2L859.0,2979.1L867.4,2976.5L875.7,2978.3L884.1,2977.0L892.5,2976.0L900.9,2973.3L909.3,2972.4L917.6,2965.3L926.0,2960.9L934.4,2958.4L942.8,2956.6L951.2,2956.7L959.6,2957.3L967.9,2957.5L976.3,2953.8L984.7,2952.0L993.1,2949.2L1001.5,2948.7L1009.8,2953.4L1018.2,2954.1L1026.6,2953.2L1035.0,2952.3L1043.4,2954.6L1051.8,2952.0L1060.1,2950.1L1068.5,2945.0L1076.9,2944.8L1085.3,2944.3L1093.7,2939.9L1102.0,2939.1L1110.4,2932.2L1118.8,2932.6L1127.2,2924.2L1135.6,2922.4L1143.9,2918.0L1152.3,2921.5L1160.7,2921.1L1169.1,2922.0L1177.5,2920.7L1185.9,2920.8L1194.2,2916.9L1202.6,2915.4L1211.0,2909.0L1219.4,2900.1L1227.8,2894.8L1236.1,2881.7L1244.5,2869.7L1252.9,2856.9L1261.3,2845.2L1269.7,2828.2L1278.1,2813.3L1286.4,2793.2L1294.8,2768.9L1303.2,2738.5L1311.6,2713.6L1320.0,2681.6L1328.3,2653.2L1336.7,2632.9L1345.1,2590.7L1353.5,2554.6L1361.9,2523.8L1370.2,2491.1L1378.6,2459.6L1387.0,2428.7L1395.4,2394.2L1403.8,2361.3L1412.2,2328.1L1420.5,2297.2L1428.9,2270.7L1437.3,2243.4L1445.7,2213.3L1454.1,2180.6L1462.4,2150.7L1470.8,2123.4L1479.2,2098.2L1487.6,2072.0L1496.0,2050.1L1504.4,2031.1L1512.7,2008.2L1521.1,1994.6L1529.5,1980.5L1537.9,1972.2L1546.3,1966.9L1554.6,1958.8L1563.0,1958.5L1571.4,1952.9L1579.8,1956.7L1588.2,1959.6L1596.6,1961.5L1604.9,1966.1L1613.3,1967.7L1621.7,1969.2L1630.1,1971.4L1638.5,1967.8L1646.8,1968.9L1655.2,1971.0L1663.6,1969.7L1672.0,1976.1L1680.4,1975.2L1688.8,1979.2L1697.1,1977.3L1705.5,1978.0L1713.9,1975.7L1722.3,1970.5L1730.7,1969.7L1739.0,1964.8L1747.4,1961.4L1755.8,1955.3L1764.2,1950.5L1772.6,1945.5L1780.9,1938.6L1789.3,1935.2L1797.7,1925.0L1806.1,1923.7L1814.5,1919.3L1822.9,1913.6L1831.2,1911.3L1839.6,1906.6L1848.0,1901.3" stroke-width="9.0" stroke-linejoin="round" stroke-linecap="round"/><path d="M691.3,2997.3l12.2,12.2l-12.2,12.2l-12.2,-12.2zM699.7,2997.5l12.2,12.2l-12.2,12.2l-12.2,-12.2zM708.1,2993.4l12.2,12.2l-12.2,12.2l-12.2,-12.2zM716.5,2991.4l12.2,12.2l-12.2,12.2l-12.2,-12.2zM724.9,2988.1l12.2,12.2l-12.2,12.2l-12.2,-12.2zM733.2,2985.3l12.2,12.2l-12.2,12.2l-12.2,-12.2zM741.6,2987.0l12.2,12.2l-12.2,12.2l-12.2,-12.2zM750.0,2983.5l12.2,12.2l-12.2,12.2l-12.2,-12.2zM758.4,2981.1l12.2,12.2l-12.2,12.2l-12.2,-12.2zM766.8,2978.2l12.2,12.2l-12.2,12.2l-12.2,-12.2zM775.2,2978.0l12.2,12.2l-12.2,12.2l-12.2,-12.2zM783.5,2973.3l12.2,12.2l-12.2,12.2l-12.2,-12.2zM791.9,2973.7l12.2,12.2l-12.2,12.2l-12.2,-12.2zM800.3,2970.4l12.2,12.2l-12.2,12.2l-12.2,-12.2zM808.7,2970.3l12.2,12.2l-12.2,12.2l-12.2,-12.2zM817.1,2970.2l12.2,12.2l-12.2,12.2l-12.2,-12.2zM825.4,2968.3l12.2,12.2l-12.2,12.2l-12.2,-12.2zM833.8,2967.0l12.2,12.2l-12.2,12.2l-12.2,-12.2zM842.2,2968.9l12.2,12.2l-12.2,12.2l-12.2,-12.2zM850.6,2969.0l12.2,12.2l-12.2,12.2l-12.2,-12.2zM859.0,2966.9l12.2,12.2l-12.2,12.2l-12.2,-12.2zM867.4,2964.3l12.2,12.2l-12.2,12.2l-12.2,-12.2zM875.7,2966.1l12.2,12.2l-12.2,12.2l-12.2,-12.2zM884.1,2964.8l12.2,12.2l-12.2,12.2l-12.2,-12.2zM892.5,2963.8l12.2,12.2l-12.2,12.2l-12.2,-12.2zM900.9,2961.1l12.2,12.2l-12.2,12.2l-12.2,-12.2zM909.3,2960.2l12.2,12.2l-12.2,12.2l-12.2,-12.2zM917.6,2953.1l12.2,12.2l-12.2,12.2l-12.2,-12.2zM926.0,2948.7l12.2,12.2l-12.2,12.2l-12.2,-12.2zM934.4,2946.2l12.2,12.2l-12.2,12.2l-12.2,-12.2zM942.8,2944.4l12.2,12.2l-12.2,12.2l-12.2,-12.2zM951.2,2944.5l12.2,12.2l-12.2,12.2l-12.2,-12.2zM959.6,2945.1l12.2,12.2l-12.2,12.2l-12.2,-12.2zM967.9,2945.3l12.2,12.2l-12.2,12.2l-12.2,-12.2zM976.3,2941.6l12.2,12.2l-12.2,12.2l-12.2,-12.2zM984.7,2939.8l12.2,12.2l-12.2,12.2l-12.2,-12.2zM993.1,2937.0l12.2,12.2l-12.2,12.2l-12.2,-12.2zM1001.5,2936.5l12.2,12.2l-12.2,12.2l-12.2,-12.2zM1009.8,2941.2l12.2,12.2l-12.2,12.2l-12.2,-12.2zM1018.2,2941.9l12.2,12.2l-12.2,12.2l-12.2,-12.2zM1026.6,2941.0l12.2,12.2l-12.2,12.2l-12.2,-12.2zM1035.0,2940.1l12.2,12.2l-12.2,12.2l-12.2,-12.2zM1043.4,2942.4l12.2,12.2l-12.2,12.2l-12.2,-12.2zM1051.8,2939.8l12.2,12.2l-12.2,12.2l-12.2,-12.2zM1060.1,2937.9l12.2,12.2l-12.2,12.2l-12.2,-12.2zM1068.5,2932.8l12.2,12.2l-12.2,12.2l-12.2,-12.2zM1076.9,2932.6l12.2,12.2l-12.2,12.2l-12.2,-12.2zM1085.3,2932.1l12.2,12.2l-12.2,12.2l-12.2,-12.2zM1093.7,2927.7l12.2,12.2l-12.2,12.2l-12.2,-12.2zM1102.0,2926.9l12.2,12.2l-12.2,12.2l-12.2,-12.2zM1110.4,2920.0l12.2,12.2l-12.2,12.2l-12.2,-12.2zM1118.8,2920.4l12.2,12.2l-12.2,12.2l-12.2,-12.2zM1127.2,2912.0l12.2,12.2l-12.2,12.2l-12.2,-12.2zM1135.6,2910.2l12.2,12.2l-12.2,12.2l-12.2,-12.2zM1143.9,2905.8l12.2,12.2l-12.2,12.2l-12.2,-12.2zM1152.3,2909.3l12.2,12.2l-12.2,12.2l-12.2,-12.2zM1160.7,2908.9l12.2,12.2l-12.2,12.2l-12.2,-12.2zM1169.1,2909.8l12.2,12.2l-12.2,12.2l-12.2,-12.2zM1177.5,2908.5l12.2,12.2l-12.2,12.2l-12.2,-12.2zM1185.9,2908.6l12.2,12.2l-12.2,12.2l-12.2,-12.2zM1194.2,2904.7l12.2,12.2l-12.2,12.2l-12.2,-12.2zM1202.6,2903.2l12.2,12.2l-12.2,12.2l-12.2,-12.2zM1211.0,2896.8l12.2,12.2l-12.2,12.2l-12.2,-12.2zM1219.4,2887.9l12.2,12.2l-12.2,12.2l-12.2,-12.2zM1227.8,2882.6l12.2,12.2l-12.2,12.2l-12.2,-12.2zM1236.1,2869.5l12.2,12.2l-12.2,12.2l-12.2,-12.2zM1244.5,2857.5l12.2,12.2l-12.2,12.2l-12.2,-12.2zM1252.9,2844.7l12.2,12.2l-12.2,12.2l-12.2,-12.2zM1261.3,2833.0l12.2,12.2l-12.2,12.2l-12.2,-12.2zM1269.7,2816.0l12.2,12.2l-12.2,12.2l-12.2,-12.2zM1278.1,2801.1l12.2,12.2l-12.2,12.2l-12.2,-12.2zM1286.4,2781.0l12.2,12.2l-12.2,12.2l-12.2,-12.2zM1294.8,2756.7l12.2,12.2l-12.2,12.2l-12.2,-12.2zM1303.2,2726.3l12.2,12.2l-12.2,12.2l-12.2,-12.2zM1311.6,2701.4l12.2,12.2l-12.2,12.2l-12.2,-12.2zM1320.0,2669.4l12.2,12.2l-12.2,12.2l-12.2,-12.2zM1328.3,2641.0l12.2,12.2l-12.2,12.2l-12.2,-12.2zM1336.7,2620.7l12.2,12.2l-12.2,12.2l-12.2,-12.2zM1345.1,2578.5l12.2,12.2l-12.2,12.2l-12.2,-12.2zM1353.5,2542.4l12.2,12.2l-12.2,12.2l-12.2,-12.2zM1361.9,2511.6l12.2,12.2l-12.2,12.2l-12.2,-12.2zM1370.2,2478.9l12.2,12.2l-12.2,12.2l-12.2,-12.2zM1378.6,2447.4l12.2,12.2l-12.2,12.2l-12.2,-12.2zM1387.0,2416.5l12.2,12.2l-12.2,12.2l-12.2,-12.2zM1395.4,2382.0l12.2,12.2l-12.2,12.2l-12.2,-12.2zM1403.8,2349.1l12.2,12.2l-12.2,12.2l-12.2,-12.2zM1412.2,2315.9l12.2,12.2l-12.2,12.2l-12.2,-12.2zM1420.5,2285.0l12.2,12.2l-12.2,12.2l-12.2,-12.2zM1428.9,2258.5l12.2,12.2l-12.2,12.2l-12.2,-12.2zM1437.3,2231.2l12.2,12.2l-12.2,12.2l-12.2,-12.2zM1445.7,2201.1l12.2,12.2l-12.2,12.2l-12.2,-12.2zM1454.1,2168.4l12.2,12.2l-12.2,12.2l-12.2,-12.2zM1462.4,2138.5l12.2,12.2l-12.2,12.2l-12.2,-12.2zM1470.8,2111.2l12.2,12.2l-12.2,12.2l-12.2,-12.2zM1479.2,2086.0l12.2,12.2l-12.2,12.2l-12.2,-12.2zM1487.6,2059.8l12.2,12.2l-12.2,12.2l-12.2,-12.2zM1496.0,2037.9l12.2,12.2l-12.2,12.2l-12.2,-12.2zM1504.4,2018.9l12.2,12.2l-12.2,12.2l-12.2,-12.2zM1512.7,1996.0l12.2,12.2l-12.2,12.2l-12.2,-12.2zM1521.1,1982.4l12.2,12.2l-12.2,12.2l-12.2,-12.2zM1529.5,1968.3l12.2,12.2l-12.2,12.2l-12.2,-12.2zM1537.9,1960.0l12.2,12.2l-12.2,12.2l-12.2,-12.2zM1546.3,1954.7l12.2,12.2l-12.2,12.2l-12.2,-12.2zM1554.6,1946.6l12.2,12.2l-12.2,12.2l-12.2,-12.2zM1563.0,1946.3l12.2,12.2l-12.2,12.2l-12.2,-12.2zM1571.4,1940.7l12.2,12.2l-12.2,12.2l-12.2,-12.2zM1579.8,1944.5l12.2,12.2l-12.2,12.2l-12.2,-12.2zM1588.2,1947.4l12.2,12.2l-12.2,12.2l-12.2,-12.2zM1596.6,1949.3l12.2,12.2l-12.2,12.2l-12.2,-12.2zM1604.9,1953.9l12.2,12.2l-12.2,12.2l-12.2,-12.2zM1613.3,1955.5l12.2,12.2l-12.2,12.2l-12.2,-12.2zM1621.7,1957.0l12.2,12.2l-12.2,12.2l-12.2,-12.2zM1630.1,1959.2l12.2,12.2l-12.2,12.2l-12.2,-12.2zM1638.5,1955.6l12.2,12.2l-12.2,12.2l-12.2,-12.2zM1646.8,1956.7l12.2,12.2l-12.2,12.2l-12.2,-12.2zM1655.2,1958.8l12.2,12.2l-12.2,12.2l-12.2,-12.2zM1663.6,1957.5l12.2,12.2l-12.2,12.2l-12.2,-12.2zM1672.0,1963.9l12.2,12.2l-12.2,12.2l-12.2,-12.2zM1680.4,1963.0l12.2,12.2l-12.2,12.2l-12.2,-12.2zM1688.8,1967.0l12.2,12.2l-12.2,12.2l-12.2,-12.2zM1697.1,1965.1l12.2,12.2l-12.2,12.2l-12.2,-12.2zM1705.5,1965.8l12.2,12.2l-12.2,12.2l-12.2,-12.2zM1713.9,1963.5l12.2,12.2l-12.2,12.2l-12.2,-12.2zM1722.3,1958.3l12.2,12.2l-12.2,12.2l-12.2,-12.2zM1730.7,1957.5l12.2,12.2l-12.2,12.2l-12.2,-12.2zM1739.0,1952.6l12.2,12.2l-12.2,12.2l-12.2,-12.2zM1747.4,1949.2l12.2,12.2l-12.2,12.2l-12.2,-12.2zM1755.8,1943.1l12.2,12.2l-12.2,12.2l-12.2,-12.2zM1764.2,1938.3l12.2,12.2l-12.2,12.2l-12.2,-12.2zM1772.6,1933.3l12.2,12.2l-12.2,12.2l-12.2,-12.2zM1780.9,1926.4l12.2,12.2l-12.2,12.2l-12.2,-12.2zM1789.3,1923.0l12.2,12.2l-12.2,12.2l-12.2,-12.2zM1797.7,1912.8l12.2,12.2l-12.2,12.2l-12.2,-12.2zM1806.1,1911.5l12.2,12.2l-12.2,12.2l-12.2,-12.2zM1814.5,1907.1l12.2,12.2l-12.2,12.2l-12.2,-12.2zM1822.9,1901.4l12.2,12.2l-12.2,12.2l-12.2,-12.2zM1831.2,1899.1l12.2,12.2l-12.2,12.2l-12.2,-12.2zM1839.6,1894.4l12.2,12.2l-12.2,12.2l-12.2,-12.2zM1848.0,1889.1l12.2,12.2l-12.2,12.2l-12.2,-12.2z" stroke-width="6.0" stroke-linejoin="bevel"/></g>
<g clip-path="url(#clipb)" fill="none" stroke="#7F2AA2"><path d="M574.0,3023.9L582.4,3021.2L590.8,3019.5L599.1,3019.3L607.5,3020.1L615.9,3019.7L624.3,3018.4L632.7,3018.1L641.1,3018.5L649.4,3020.2L657.8,3021.5L666.2,3021.9L674.6,3021.7L683.0,3021.6L691.3,3021.0L699.7,3018.6L708.1,3017.6L716.5,3016.7L724.9,3015.1L733.2,3014.2L741.6,3013.6L750.0,3013.0L758.4,3012.8L766.8,3013.6L775.2,3014.6L783.5,3010.4L791.9,3009.2L800.3,3007.3L808.7,3007.6L817.1,3006.4L825.4,3009.0L833.8,3009.3L842.2,3007.2L850.6,3011.8L859.0,3007.9L867.4,3004.7L875.7,3004.4L884.1,3003.7L892.5,3002.9L900.9,3002.5L909.3,2999.9L917.6,2994.9L926.0,2996.3L934.4,2997.0L942.8,2992.4L951.2,2993.1L959.6,2990.2L967.9,2989.2L976.3,2990.1L984.7,2990.3L993.1,2991.1L1001.5,2986.4L1009.8,2988.1L1018.2,2990.1L1026.6,2988.5L1035.0,2987.1L1043.4,2985.6L1051.8,2987.5L1060.1,2985.5L1068.5,2987.0L1076.9,2986.2L1085.3,2984.1L1093.7,2985.5L1102.0,2982.5L1110.4,2981.4L1118.8,2981.7L1127.2,2977.6L1135.6,2976.4L1143.9,2977.6L1152.3,2976.1L1160.7,2977.5L1169.1,2973.6L1177.5,2974.0L1185.9,2973.0L1194.2,2975.7L1202.6,2975.5L1211.0,2975.9L1219.4,2977.1L1227.8,2973.1L1236.1,2976.9L1244.5,2974.5L1252.9,2974.4L1261.3,2972.6L1269.7,2972.1L1278.1,2970.3L1286.4,2968.3L1294.8,2964.5L1303.2,2961.8L1311.6,2959.2L1320.0,2957.8L1328.3,2960.2L1336.7,2959.8L1345.1,2958.8L1353.5,2954.8L1361.9,2954.4L1370.2,2953.9L1378.6,2952.6L1387.0,2948.7L1395.4,2947.5L1403.8,2947.3L1412.2,2942.3L1420.5,2941.3L1428.9,2941.9L1437.3,2937.5L1445.7,2936.4L1454.1,2930.7L1462.4,2924.5L1470.8,2922.5L1479.2,2914.5L1487.6,2912.7L1496.0,2908.6L1504.4,2902.4L1512.7,2899.6L1521.1,2891.4L1529.5,2886.3L1537.9,2877.1L1546.3,2868.2L1554.6,2864.0L1563.0,2852.1L1571.4,2848.5L1579.8,2838.5L1588.2,2830.8L1596.6,2818.2L1604.9,2812.1L1613.3,2800.2L1621.7,2785.2L1630.1,2774.4L1638.5,2763.5L1646.8,2754.4L1655.2,2740.1L1663.6,2730.0L1672.0,2714.3L1680.4,2700.8L1688.8,2680.8L1697.1,2663.8L1705.5,2644.0L1713.9,2626.9L1722.3,2608.8L1730.7,2595.8L1739.0,2578.0L1747.4,2558.1L1755.8,2533.2L1764.2,2506.6L1772.6,2478.0L1780.9,2447.8L1789.3,2419.3L1797.7,2381.8L1806.1,2351.6L1814.5,2314.8L1822.9,2287.6L1831.2,2266.9L1839.6,2256.8L1848.0,2255.1" stroke-width="9.0" stroke-linejoin="round" stroke-linecap="round"/><path d="M758.4,3000.6l12.2,12.2l-12.2,12.2l-12.2,-12.2zM766.8,3001.4l12.2,12.2l-12.2,12.2l-12.2,-12.2zM775.2,3002.4l12.2,12.2l-12.2,12.2l-12.2,-12.2zM783.5,2998.2l12.2,12.2l-12.2,12.2l-12.2,-12.2zM791.9,2997.0l12.2,12.2l-12.2,12.2l-12.2,-12.2zM800.3,2995.1l12.2,12.2l-12.2,12.2l-12.2,-12.2zM808.7,2995.4l12.2,12.2l-12.2,12.2l-12.2,-12.2zM817.1,2994.2l12.2,12.2l-12.2,12.2l-12.2,-12.2zM825.4,2996.8l12.2,12.2l-12.2,12.2l-12.2,-12.2zM833.8,2997.1l12.2,12.2l-12.2,12.2l-12.2,-12.2zM842.2,2995.0l12.2,12.2l-12.2,12.2l-12.2,-12.2zM850.6,2999.6l12.2,12.2l-12.2,12.2l-12.2,-12.2zM859.0,2995.7l12.2,12.2l-12.2,12.2l-12.2,-12.2zM867.4,2992.5l12.2,12.2l-12.2,12.2l-12.2,-12.2zM875.7,2992.2l12.2,12.2l-12.2,12.2l-12.2,-12.2zM884.1,2991.5l12.2,12.2l-12.2,12.2l-12.2,-12.2zM892.5,2990.7l12.2,12.2l-12.2,12.2l-12.2,-12.2zM900.9,2990.3l12.2,12.2l-12.2,12.2l-12.2,-12.2zM909.3,2987.7l12.2,12.2l-12.2,12.2l-12.2,-12.2zM917.6,2982.7l12.2,12.2l-12.2,12.2l-12.2,-12.2zM926.0,2984.1l12.2,12.2l-12.2,12.2l-12.2,-12.2zM934.4,2984.8l12.2,12.2l-12.2,12.2l-12.2,-12.2zM942.8,2980.2l12.2,12.2l-12.2,12.2l-12.2,-12.2zM951.2,2980.9l12.2,12.2l-12.2,12.2l-12.2,-12.2zM959.6,2978.0l12.2,12.2l-12.2,12.2l-12.2,-12.2zM967.9,2977.0l12.2,12.2l-12.2,12.2l-12.2,-12.2zM976.3,2977.9l12.2,12.2l-12.2,12.2l-12.2,-12.2zM984.7,2978.1l12.2,12.2l-12.2,12.2l-12.2,-12.2zM993.1,2978.9l12.2,12.2l-12.2,12.2l-12.2,-12.2zM1001.5,2974.2l12.2,12.2l-12.2,12.2l-12.2,-12.2zM1009.8,2975.9l12.2,12.2l-12.2,12.2l-12.2,-12.2zM1018.2,2977.9l12.2,12.2l-12.2,12.2l-12.2,-12.2zM1026.6,2976.3l12.2,12.2l-12.2,12.2l-12.2,-12.2zM1035.0,2974.9l12.2,12.2l-12.2,12.2l-12.2,-12.2zM1043.4,2973.4l12.2,12.2l-12.2,12.2l-12.2,-12.2zM1051.8,2975.3l12.2,12.2l-12.2,12.2l-12.2,-12.2zM1060.1,2973.3l12.2,12.2l-12.2,12.2l-12.2,-12.2zM1068.5,2974.8l12.2,12.2l-12.2,12.2l-12.2,-12.2zM1076.9,2974.0l12.2,12.2l-12.2,12.2l-12.2,-12.2zM1085.3,2971.9l12.2,12.2l-12.2,12.2l-12.2,-12.2zM1093.7,2973.3l12.2,12.2l-12.2,12.2l-12.2,-12.2zM1102.0,2970.3l12.2,12.2l-12.2,12.2l-12.2,-12.2zM1110.4,2969.2l12.2,12.2l-12.2,12.2l-12.2,-12.2zM1118.8,2969.5l12.2,12.2l-12.2,12.2l-12.2,-12.2zM1127.2,2965.4l12.2,12.2l-12.2,12.2l-12.2,-12.2zM1135.6,2964.2l12.2,12.2l-12.2,12.2l-12.2,-12.2zM1143.9,2965.4l12.2,12.2l-12.2,12.2l-12.2,-12.2zM1152.3,2963.9l12.2,12.2l-12.2,12.2l-12.2,-12.2zM1160.7,2965.3l12.2,12.2l-12.2,12.2l-12.2,-12.2zM1169.1,2961.4l12.2,12.2l-12.2,12.2l-12.2,-12.2zM1177.5,2961.8l12.2,12.2l-12.2,12.2l-12.2,-12.2zM1185.9,2960.8l12.2,12.2l-12.2,12.2l-12.2,-12.2zM1194.2,2963.5l12.2,12.2l-12.2,12.2l-12.2,-12.2zM1202.6,2963.3l12.2,12.2l-12.2,12.2l-12.2,-12.2zM1211.0,2963.7l12.2,12.2l-12.2,12.2l-12.2,-12.2zM1219.4,2964.9l12.2,12.2l-12.2,12.2l-12.2,-12.2zM1227.8,2960.9l12.2,12.2l-12.2,12.2l-12.2,-12.2zM1236.1,2964.7l12.2,12.2l-12.2,12.2l-12.2,-12.2zM1244.5,2962.3l12.2,12.2l-12.2,12.2l-12.2,-12.2zM1252.9,2962.2l12.2,12.2l-12.2,12.2l-12.2,-12.2zM1261.3,2960.4l12.2,12.2l-12.2,12.2l-12.2,-12.2zM1269.7,2959.9l12.2,12.2l-12.2,12.2l-12.2,-12.2zM1278.1,2958.1l12.2,12.2l-12.2,12.2l-12.2,-12.2zM1286.4,2956.1l12.2,12.2l-12.2,12.2l-12.2,-12.2zM1294.8,2952.3l12.2,12.2l-12.2,12.2l-12.2,-12.2zM1303.2,2949.6l12.2,12.2l-12.2,12.2l-12.2,-12.2zM1311.6,2947.0l12.2,12.2l-12.2,12.2l-12.2,-12.2zM1320.0,2945.6l12.2,12.2l-12.2,12.2l-12.2,-12.2zM1328.3,2948.0l12.2,12.2l-12.2,12.2l-12.2,-12.2zM1336.7,2947.6l12.2,12.2l-12.2,12.2l-12.2,-12.2zM1345.1,2946.6l12.2,12.2l-12.2,12.2l-12.2,-12.2zM1353.5,2942.6l12.2,12.2l-12.2,12.2l-12.2,-12.2zM1361.9,2942.2l12.2,12.2l-12.2,12.2l-12.2,-12.2zM1370.2,2941.7l12.2,12.2l-12.2,12.2l-12.2,-12.2zM1378.6,2940.4l12.2,12.2l-12.2,12.2l-12.2,-12.2zM1387.0,2936.5l12.2,12.2l-12.2,12.2l-12.2,-12.2zM1395.4,2935.3l12.2,12.2l-12.2,12.2l-12.2,-12.2zM1403.8,2935.1l12.2,12.2l-12.2,12.2l-12.2,-12.2zM1412.2,2930.1l12.2,12.2l-12.2,12.2l-12.2,-12.2zM1420.5,2929.1l12.2,12.2l-12.2,12.2l-12.2,-12.2zM1428.9,2929.7l12.2,12.2l-12.2,12.2l-12.2,-12.2zM1437.3,2925.3l12.2,12.2l-12.2,12.2l-12.2,-12.2zM1445.7,2924.2l12.2,12.2l-12.2,12.2l-12.2,-12.2zM1454.1,2918.5l12.2,12.2l-12.2,12.2l-12.2,-12.2zM1462.4,2912.3l12.2,12.2l-12.2,12.2l-12.2,-12.2zM1470.8,2910.3l12.2,12.2l-12.2,12.2l-12.2,-12.2zM1479.2,2902.3l12.2,12.2l-12.2,12.2l-12.2,-12.2zM1487.6,2900.5l12.2,12.2l-12.2,12.2l-12.2,-12.2zM1496.0,2896.4l12.2,12.2l-12.2,12.2l-12.2,-12.2zM1504.4,2890.2l12.2,12.2l-12.2,12.2l-12.2,-12.2zM1512.7,2887.4l12.2,12.2l-12.2,12.2l-12.2,-12.2zM1521.1,2879.2l12.2,12.2l-12.2,12.2l-12.2,-12.2zM1529.5,2874.1l12.2,12.2l-12.2,12.2l-12.2,-12.2zM1537.9,2864.9l12.2,12.2l-12.2,12.2l-12.2,-12.2zM1546.3,2856.0l12.2,12.2l-12.2,12.2l-12.2,-12.2zM1554.6,2851.8l12.2,12.2l-12.2,12.2l-12.2,-12.2zM1563.0,2839.9l12.2,12.2l-12.2,12.2l-12.2,-12.2zM1571.4,2836.3l12.2,12.2l-12.2,12.2l-12.2,-12.2zM1579.8,2826.3l12.2,12.2l-12.2,12.2l-12.2,-12.2zM1588.2,2818.6l12.2,12.2l-12.2,12.2l-12.2,-12.2zM1596.6,2806.0l12.2,12.2l-12.2,12.2l-12.2,-12.2zM1604.9,2799.9l12.2,12.2l-12.2,12.2l-12.2,-12.2zM1613.3,2788.0l12.2,12.2l-12.2,12.2l-12.2,-12.2zM1621.7,2773.0l12.2,12.2l-12.2,12.2l-12.2,-12.2zM1630.1,2762.2l12.2,12.2l-12.2,12.2l-12.2,-12.2zM1638.5,2751.3l12.2,12.2l-12.2,12.2l-12.2,-12.2zM1646.8,2742.2l12.2,12.2l-12.2,12.2l-12.2,-12.2zM1655.2,2727.9l12.2,12.2l-12.2,12.2l-12.2,-12.2zM1663.6,2717.8l12.2,12.2l-12.2,12.2l-12.2,-12.2zM1672.0,2702.1l12.2,12.2l-12.2,12.2l-12.2,-12.2zM1680.4,2688.6l12.2,12.2l-12.2,12.2l-12.2,-12.2zM1688.8,2668.6l12.2,12.2l-12.2,12.2l-12.2,-12.2zM1697.1,2651.6l12.2,12.2l-12.2,12.2l-12.2,-12.2zM1705.5,2631.8l12.2,12.2l-12.2,12.2l-12.2,-12.2zM1713.9,2614.7l12.2,12.2l-12.2,12.2l-12.2,-12.2zM1722.3,2596.6l12.2,12.2l-12.2,12.2l-12.2,-12.2zM1730.7,2583.6l12.2,12.2l-12.2,12.2l-12.2,-12.2zM1739.0,2565.8l12.2,12.2l-12.2,12.2l-12.2,-12.2zM1747.4,2545.9l12.2,12.2l-12.2,12.2l-12.2,-12.2zM1755.8,2521.0l12.2,12.2l-12.2,12.2l-12.2,-12.2zM1764.2,2494.4l12.2,12.2l-12.2,12.2l-12.2,-12.2zM1772.6,2465.8l12.2,12.2l-12.2,12.2l-12.2,-12.2zM1780.9,2435.6l12.2,12.2l-12.2,12.2l-12.2,-12.2zM1789.3,2407.1l12.2,12.2l-12.2,12.2l-12.2,-12.2zM1797.7,2369.6l12.2,12.2l-12.2,12.2l-12.2,-12.2zM1806.1,2339.4l12.2,12.2l-12.2,12.2l-12.2,-12.2zM1814.5,2302.6l12.2,12.2l-12.2,12.2l-12.2,-12.2zM1822.9,2275.4l12.2,12.2l-12.2,12.2l-12.2,-12.2zM1831.2,2254.7l12.2,12.2l-12.2,12.2l-12.2,-12.2zM1839.6,2244.6l12.2,12.2l-12.2,12.2l-12.2,-12.2zM1848.0,2242.9l12.2,12.2l-12.2,12.2l-12.2,-12.2z" stroke-width="6.0" stroke-linejoin="bevel"/></g>
<text transform="translate(305.5,3043.9) scale(0.96,1)" font-size="95.5" text-anchor="end">0</text>
<text transform="translate(305.5,2804.6) scale(0.96,1)" font-size="95.5" text-anchor="end">0.4</text>
<text transform="translate(305.5,2566.2) scale(0.955,1)" font-size="95.5" text-anchor="end">0.8</text>
<text transform="translate(307.5,2325.4) scale(0.96,1)" font-size="95.5" text-anchor="end">1.2</text>
<text transform="translate(307.5,2088.7) scale(0.96,1)" font-size="95.5" text-anchor="end">1.6</text>
<text transform="translate(304,1849) scale(0.96,1)" font-size="95.5" text-anchor="end">2</text>
<text transform="translate(383,3152) scale(0.965,1)" font-size="95.5" text-anchor="middle">0</text>
<text transform="translate(702.4,3152) scale(0.965,1)" font-size="95.5" text-anchor="middle">200</text>
<text transform="translate(1021.6,3152) scale(0.965,1)" font-size="95.5" text-anchor="middle">400</text>
<text transform="translate(1341.9,3152) scale(0.965,1)" font-size="95.5" text-anchor="middle">600</text>
<text transform="translate(1662.9,3152) scale(0.965,1)" font-size="95.5" text-anchor="middle">800</text>
<text transform="translate(1984,3152) scale(0.94,1)" font-size="95.5" text-anchor="middle">1000</text>
<text transform="translate(1207.4,3262) scale(0.974,1)" font-size="102" text-anchor="middle" font-weight="bold">Temperature (<tspan font-size="102" dy="-0">º</tspan><tspan dy="0">C)</tspan></text>
<text transform="translate(118.5,2381.5) rotate(-90) scale(0.975,1)" font-size="102" text-anchor="middle" font-weight="bold">CO (µmol/gs)</text>
<text transform="translate(422.5,1933.5)" font-size="90.5" text-anchor="start" font-weight="bold">(b)</text>
<g fill="none" stroke="#000000"><line x1="447.35" y1="2082.6" x2="609.55" y2="2082.6" stroke-width="9.1" stroke-linecap="round"/><path d="M528.5,2068.4l12.2,12.2l-12.2,12.2l-12.2,-12.2z" stroke-width="6.0" stroke-linejoin="bevel"/></g>
<text transform="translate(624.6,2112.7) scale(1.003,1)" font-size="92" text-anchor="start">KUA</text>
<g fill="none" stroke="#808080"><line x1="447.35" y1="2181.8" x2="609.55" y2="2181.8" stroke-width="9.1" stroke-linecap="round"/><path d="M528.5,2168.6l12.2,12.2l-12.2,12.2l-12.2,-12.2z" stroke-width="6.0" stroke-linejoin="bevel"/></g>
<text transform="translate(624.6,2212.3) scale(1.003,1)" font-size="92" text-anchor="start">KUA<tspan dy="9.6">_</tspan><tspan dy="-9.6">800</tspan></text>
<g fill="none" stroke="#0070C0"><line x1="447.35" y1="2281.9" x2="609.55" y2="2281.9" stroke-width="9.1" stroke-linecap="round"/><path d="M528.5,2268.7l12.2,12.2l-12.2,12.2l-12.2,-12.2z" stroke-width="6.0" stroke-linejoin="bevel"/></g>
<text transform="translate(624.6,2313.7) scale(1.003,1)" font-size="92" text-anchor="start">KUA-N</text>
<g fill="none" stroke="#FF6A00"><line x1="447.35" y1="2381.6" x2="609.55" y2="2381.6" stroke-width="9.1" stroke-linecap="round"/><path d="M528.5,2369.4l12.2,12.2l-12.2,12.2l-12.2,-12.2z" stroke-width="6.0" stroke-linejoin="bevel"/></g>
<text transform="translate(624.6,2413.8) scale(1.003,1)" font-size="92" text-anchor="start">KUA-N<tspan dy="9.6">_</tspan><tspan dy="-9.6">500</tspan></text>
<g fill="none" stroke="#7F2AA2"><line x1="447.35" y1="2481.2" x2="609.55" y2="2481.2" stroke-width="9.1" stroke-linecap="round"/><path d="M528.5,2471.0l12.2,12.2l-12.2,12.2l-12.2,-12.2z" stroke-width="6.0" stroke-linejoin="bevel"/></g>
<text transform="translate(624.6,2513.8) scale(1.003,1)" font-size="92" text-anchor="start">KUA-N<tspan dy="9.6">_</tspan><tspan dy="-9.6">800</tspan></text>
</g>
</svg>
</body></html>
